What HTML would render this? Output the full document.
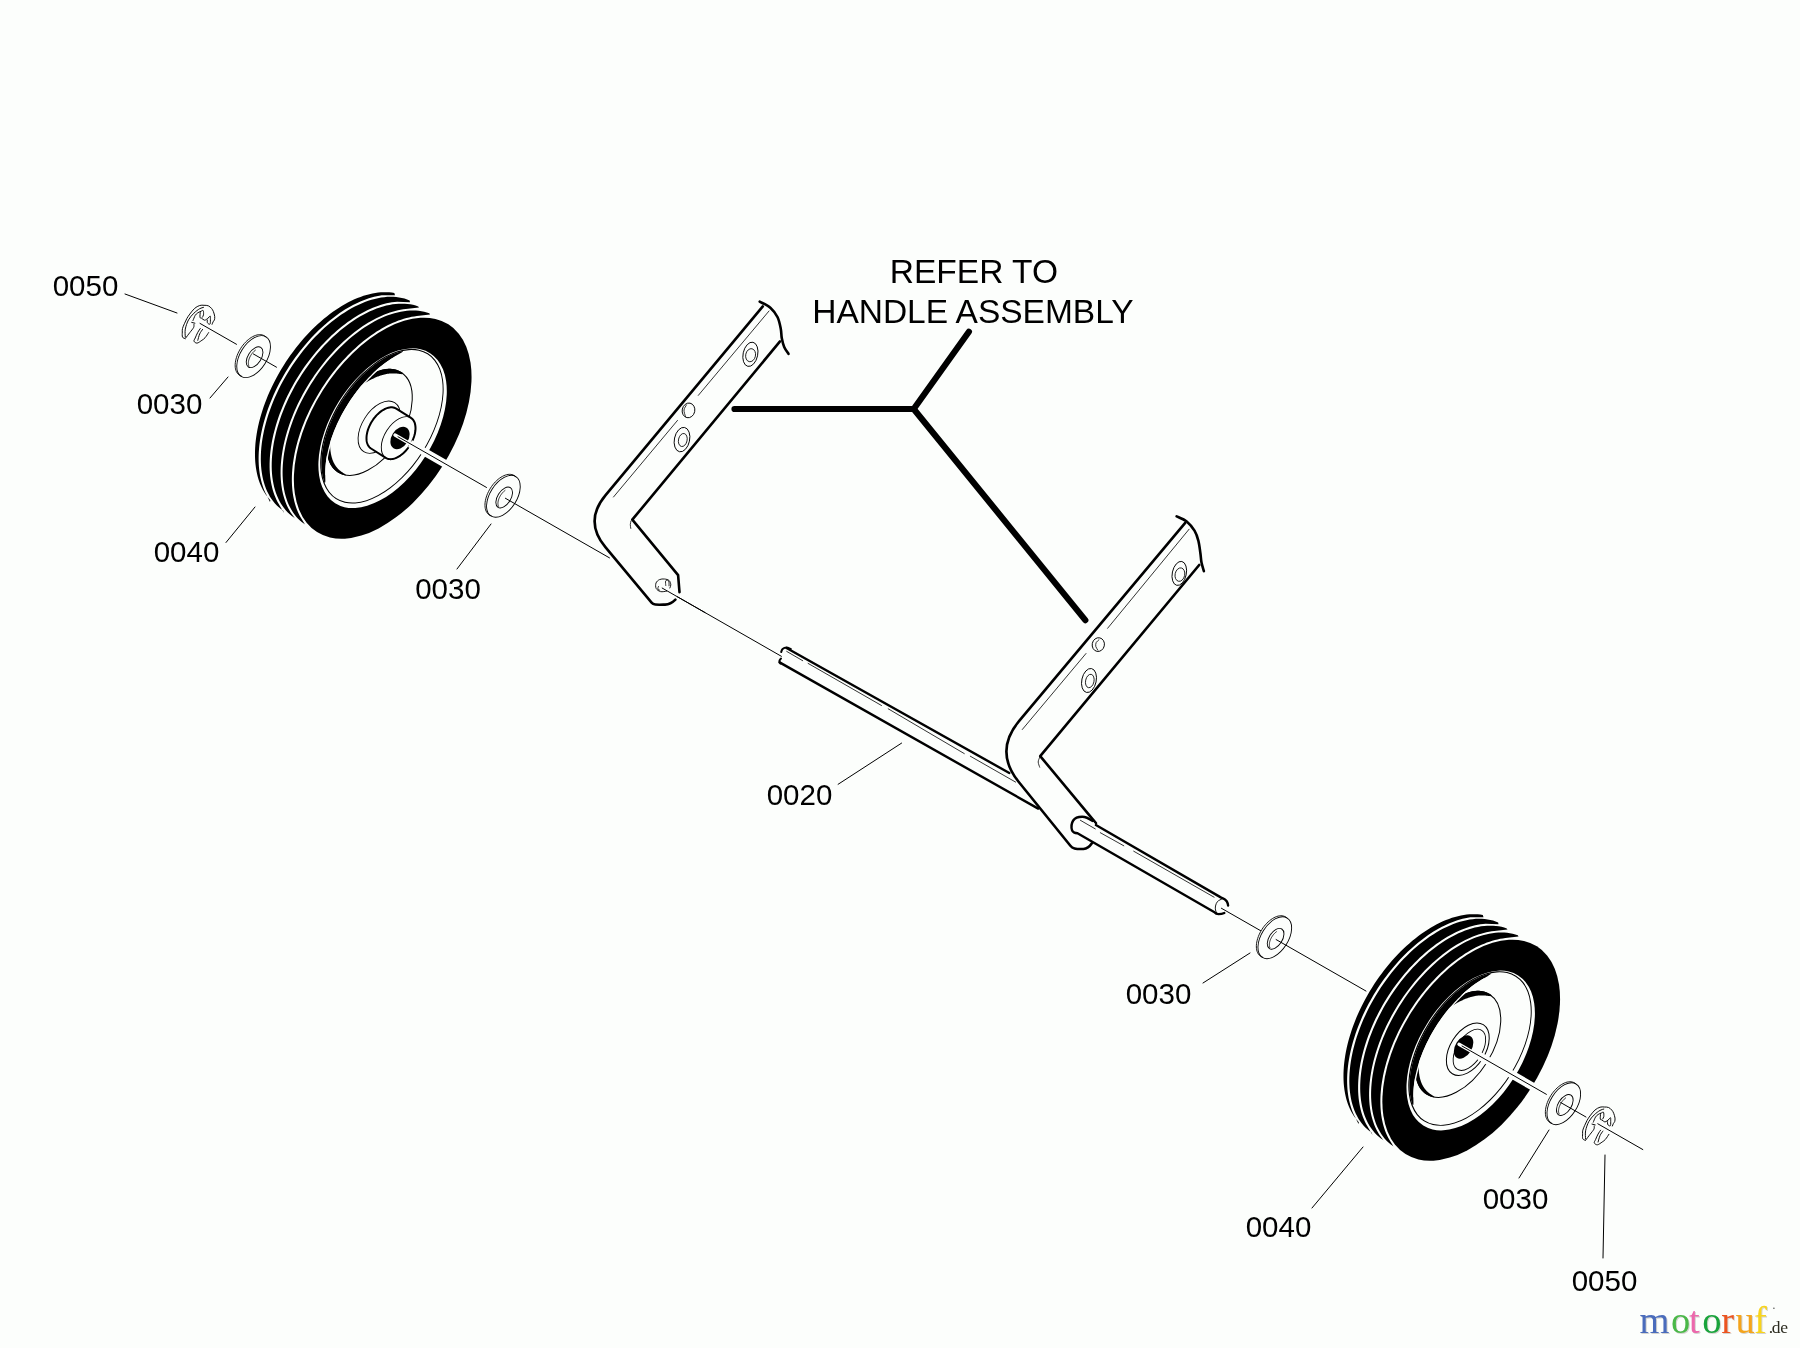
<!DOCTYPE html>
<html><head><meta charset="utf-8"><style>
html,body{margin:0;padding:0;background:#fcfefc;}
body{width:1800px;height:1348px;overflow:hidden;position:relative;font-family:"Liberation Sans",sans-serif;}
svg{position:absolute;left:0;top:0;}
.tx{will-change:transform;}
</style></head><body>
<svg width="1800" height="1348" viewBox="0 0 1800 1348" font-family="Liberation Sans, sans-serif"><line x1="200.00" y1="323.40" x2="236.50" y2="344.30" stroke="#000" stroke-width="1.00" stroke-linecap="round"/>
<path d="M185.30 338.70 C184.83 338.43 183.00 338.22 182.50 337.10 C182.00 335.98 182.30 333.43 182.30 332.00 C182.30 330.57 182.15 329.88 182.50 328.50 C182.85 327.12 183.68 325.35 184.40 323.70 C185.12 322.05 185.90 320.20 186.80 318.60 C187.70 317.00 188.50 315.80 189.80 314.10 C191.10 312.40 192.95 309.83 194.60 308.40 C196.25 306.97 198.13 306.02 199.70 305.50 C201.27 304.98 202.57 305.25 204.00 305.30 C205.43 305.35 207.05 305.28 208.30 305.80 C209.55 306.32 210.65 307.43 211.50 308.40 C212.35 309.37 212.87 310.27 213.40 311.60 C213.93 312.93 214.53 315.02 214.70 316.40 C214.87 317.78 214.67 319.00 214.40 319.90 C214.13 320.80 213.48 321.07 213.10 321.80 C212.72 322.53 212.27 323.88 212.10 324.30" fill="none" stroke="#000" stroke-width="0.95" stroke-linejoin="round" stroke-linecap="round" />
<path d="M185.30 337.10 C185.30 335.77 184.77 331.97 185.30 329.10 C185.83 326.23 187.07 322.55 188.50 319.90 C189.93 317.25 192.03 315.07 193.90 313.20 C195.77 311.33 198.10 309.67 199.70 308.70 C201.30 307.73 202.87 307.62 203.50 307.40" fill="none" stroke="#000" stroke-width="0.95" stroke-linejoin="round" stroke-linecap="round" />
<path d="M185.70 338.00 C186.38 337.10 188.48 334.35 189.80 332.60 C191.12 330.85 192.92 328.88 193.60 327.50 C194.28 326.12 193.85 324.83 193.90 324.30" fill="none" stroke="#000" stroke-width="0.95" stroke-linejoin="round" stroke-linecap="round" />
<path d="M191.70 322.40 L194.90 323.20" fill="none" stroke="#000" stroke-width="0.95" stroke-linejoin="round" stroke-linecap="round" />
<path d="M193.00 320.50 C193.37 319.65 194.40 316.68 195.20 315.40 C196.00 314.12 196.83 313.48 197.80 312.80 C198.77 312.12 200.10 311.67 201.00 311.30 C201.90 310.93 202.78 310.02 203.20 310.60 C203.62 311.18 203.63 313.70 203.50 314.80 C203.37 315.90 202.58 316.80 202.40 317.20" fill="none" stroke="#000" stroke-width="0.95" stroke-linejoin="round" stroke-linecap="round" />
<path d="M200.30 311.80 C200.25 312.72 199.78 316.22 200.00 317.30 C200.22 318.38 200.85 317.82 201.60 318.30 C202.35 318.78 203.65 320.05 204.50 320.20 C205.35 320.35 206.02 319.63 206.70 319.20 C207.38 318.77 208.28 317.87 208.60 317.60" fill="none" stroke="#000" stroke-width="0.95" stroke-linejoin="round" stroke-linecap="round" />
<path d="M207.30 320.00 C207.30 320.40 207.08 321.75 207.30 322.40 C207.52 323.05 208.12 323.68 208.60 323.90 C209.08 324.12 209.90 324.60 210.20 323.70 C210.50 322.80 210.40 319.78 210.40 318.50 C210.40 317.22 210.50 316.15 210.20 316.00 C209.90 315.85 208.87 317.33 208.60 317.60" fill="none" stroke="#000" stroke-width="0.95" stroke-linejoin="round" stroke-linecap="round" />
<path d="M200.30 328.50 C199.88 329.13 198.65 330.72 197.80 332.30 C196.95 333.88 195.83 336.52 195.20 338.00 C194.57 339.48 193.68 340.35 194.00 341.20 C194.32 342.05 195.78 343.25 197.10 343.10 C198.42 342.95 200.57 341.20 201.90 340.30 C203.23 339.40 203.98 338.98 205.10 337.70 C206.22 336.42 208.02 333.45 208.60 332.60" fill="none" stroke="#000" stroke-width="0.95" stroke-linejoin="round" stroke-linecap="round" />
<path d="M202.60 329.40 C202.12 330.15 200.50 332.08 199.70 333.90 C198.90 335.72 198.12 339.23 197.80 340.30" fill="none" stroke="#000" stroke-width="0.95" stroke-linejoin="round" stroke-linecap="round" />
<path d="M266.05 336.91 L266.90 337.53 L267.67 338.27 L268.35 339.12 L268.94 340.08 L269.44 341.14 L269.84 342.30 L270.13 343.55 L270.33 344.88 L270.42 346.27 L270.41 347.74 L270.30 349.25 L270.08 350.82 L269.76 352.41 L269.34 354.04 L268.83 355.68 L268.22 357.32 L267.52 358.96 L266.73 360.59 L265.87 362.19 L264.93 363.76 L263.91 365.28 L262.84 366.75 L261.71 368.16 L260.52 369.50 L259.30 370.75 L258.04 371.92 L256.75 373.00 L255.45 373.97 L254.13 374.84 L252.81 375.59 L251.49 376.23 L250.18 376.74 L248.90 377.13 L247.65 377.40 L246.43 377.54 L245.26 377.54 L244.14 377.42 L243.07 377.17 L242.08 376.80 L241.15 376.29 L239.54 375.28 L238.69 374.66 L237.93 373.92 L237.24 373.06 L236.65 372.10 L236.16 371.04 L235.76 369.88 L235.46 368.64 L235.26 367.31 L235.17 365.91 L235.18 364.45 L235.30 362.93 L235.51 361.37 L235.83 359.77 L236.25 358.15 L236.77 356.51 L237.37 354.86 L238.07 353.22 L238.86 351.59 L239.73 349.99 L240.67 348.42 L241.68 346.90 L242.75 345.43 L243.89 344.02 L245.07 342.69 L246.29 341.43 L247.55 340.26 L248.84 339.19 L250.15 338.22 L251.47 337.35 L252.79 336.60 L254.11 335.96 L255.41 335.44 L256.69 335.05 L257.95 334.79 L259.16 334.65 L260.33 334.64 L261.46 334.76 L262.52 335.01 L263.52 335.39 L264.44 335.89 Z" fill="#fcfefc" stroke="none" stroke-width="0.00" stroke-linejoin="round" stroke-linecap="round" />
<path d="M241.47 376.16 L240.37 375.74 L239.37 375.16 L238.45 374.45 L237.64 373.59 L236.94 372.60 L236.34 371.48 L235.87 370.24 L235.51 368.89 L235.28 367.45 L235.17 365.91 L235.19 364.30 L235.33 362.62 L235.60 360.89 L235.99 359.12 L236.50 357.33 L237.12 355.52 L237.85 353.71 L238.70 351.92 L239.64 350.15 L240.67 348.42 L241.78 346.75 L242.98 345.14 L244.24 343.62 L245.55 342.18 L246.92 340.84 L248.32 339.61 L249.76 338.50 L251.20 337.51 L252.66 336.67 L254.11 335.96 L255.54 335.40 L256.94 334.99 L258.31 334.73 L259.64 334.63 L260.90 334.69 L262.10 334.90 L263.23 335.26 L264.26 335.78 L265.21 336.45 L266.06 337.25" fill="none" stroke="#000" stroke-width="0.90" stroke-linejoin="round" stroke-linecap="round" />
<ellipse cx="253.60" cy="356.60" rx="23.30" ry="13.40" transform="rotate(-57.70 253.60 356.60)" fill="none" stroke="#000" stroke-width="0.90"/>
<ellipse cx="254.60" cy="357.20" rx="11.60" ry="6.60" transform="rotate(-57.70 254.60 357.20)" fill="none" stroke="#000" stroke-width="0.90"/>
<path d="M248.94 366.05 L248.69 365.46 L248.51 364.80 L248.39 364.09 L248.34 363.32 L248.36 362.51 L248.45 361.66 L248.60 360.77 L248.82 359.87 L249.11 358.95 L249.46 358.02 L249.87 357.10 L250.33 356.18 L250.85 355.29 L251.41 354.42 L252.01 353.58 L252.65 352.78 L253.32 352.03 L254.01 351.34 L254.73 350.71 L255.45 350.14" fill="none" stroke="#000" stroke-width="0.80" stroke-linejoin="round" stroke-linecap="round" />
<line x1="253.40" y1="353.98" x2="276.50" y2="367.20" stroke="#000" stroke-width="1.00" stroke-linecap="round"/>
<ellipse cx="382.70" cy="428.20" rx="122.90" ry="70.80" transform="rotate(-57.70 382.70 428.20)" fill="#000" stroke="none" stroke-width="1.00"/>
<path d="M270.33 500.19 L268.64 498.32 L267.04 496.34 L265.54 494.25 L264.13 492.05 L262.82 489.74 L261.60 487.32 L260.48 484.80 L259.47 482.19 L258.55 479.48 L257.74 476.68 L257.03 473.78 L256.42 470.81 L255.92 467.75 L255.52 464.61 L255.23 461.40 L255.05 458.12 L254.97 454.77 L255.00 451.36 L255.14 447.89 L255.38 444.37 L255.73 440.79 L256.18 437.17 L256.74 433.51 L257.41 429.82 L258.18 426.09 L259.05 422.33 L260.02 418.55 L261.10 414.75 L262.27 410.93 L263.54 407.11 L264.91 403.28 L266.37 399.45 L267.92 395.62 L269.57 391.80 L271.31 388.00 L273.13 384.21 L275.04 380.44 L277.02 376.71 L279.10 373.00 L281.24 369.33 L283.47 365.69 L285.76 362.11 L288.13 358.57 L290.56 355.08 L293.05 351.66 L295.61 348.29 L298.23 344.99 L300.90 341.76 L303.62 338.60 L306.39 335.52 L309.20 332.51 L312.06 329.60 L314.95 326.77 L317.88 324.03 L320.84 321.39 L323.83 318.84 L326.84 316.40 L329.87 314.05 L332.92 311.82 L335.98 309.69 L339.05 307.68 L342.13 305.78 L345.21 304.00 L348.28 302.33 L351.35 300.79 L354.42 299.37 L357.47 298.07 L360.50 296.90 L363.51 295.85 L366.50 294.93 L369.47 294.15 L372.40 293.49 L375.30 292.96 L378.16 292.57 L380.97 292.31 L383.75 292.18 L386.47 292.18 L389.15 292.32 L391.77 292.59 L394.33 292.99 L395.00 295.25 L381.74 295.23 L379.21 295.65 L376.65 296.16 L374.07 296.77 L371.48 297.48 L368.87 298.28 L366.24 299.18 L363.60 300.17 L360.95 301.25 L358.30 302.42 L355.63 303.68 L352.97 305.04 L350.30 306.48 L347.63 308.00 L344.97 309.62 L342.31 311.31 L339.65 313.09 L337.01 314.95 L334.38 316.89 L331.76 318.90 L329.15 320.99 L326.57 323.16 L324.00 325.39 L321.46 327.70 L318.94 330.07 L316.45 332.51 L313.99 335.02 L311.55 337.58 L309.15 340.21 L306.79 342.89 L304.46 345.63 L302.17 348.42 L299.92 351.26 L297.71 354.14 L295.55 357.08 L293.43 360.05 L291.36 363.07 L289.34 366.12 L287.37 369.21 L285.46 372.34 L283.60 375.49 L281.79 378.67 L280.05 381.87 L278.36 385.09 L276.73 388.34 L275.17 391.60 L273.67 394.87 L272.23 398.15 L270.87 401.45 L269.56 404.74 L268.33 408.04 L267.17 411.34 L266.07 414.64 L265.05 417.93 L264.10 421.21 L263.23 424.48 L262.42 427.73 L261.70 430.97 L261.04 434.19 L260.47 437.38 L259.97 440.55 L259.54 443.70 L259.20 446.81 L258.93 449.89 L258.74 452.93 L258.63 455.94 L258.60 458.90 L258.65 461.82 L258.78 464.70 L258.98 467.53 L259.27 470.31 L259.63 473.03 L260.07 475.70 L260.59 478.32 L261.19 480.87 L261.87 483.36 L262.63 485.79 L263.46 488.15 L264.37 490.45 L265.36 492.67 L266.43 494.82 L270.00 502.00 Z" fill="#000" stroke="none" stroke-width="0.00" stroke-linejoin="round" stroke-linecap="round" />
<path d="M283.09 510.61 L280.90 509.04 L278.82 507.33 L276.83 505.47 L274.95 503.47 L273.18 501.33 L271.52 499.05 L269.97 496.65 L268.54 494.11 L267.22 491.45 L266.02 488.67 L264.94 485.77 L263.99 482.76 L263.15 479.64 L262.45 476.41 L261.86 473.09 L261.41 469.67 L261.08 466.16 L260.88 462.57 L260.80 458.89 L260.86 455.15 L261.04 451.33 L261.35 447.45 L261.78 443.51 L262.35 439.52 L263.04 435.49 L263.85 431.41 L264.79 427.30 L265.85 423.16 L267.03 419.00 L268.33 414.82 L269.74 410.63 L271.28 406.43 L272.92 402.24 L274.67 398.05 L276.54 393.88 L278.51 389.72 L280.58 385.59 L282.75 381.49 L285.01 377.43 L287.37 373.42 L289.82 369.45 L292.36 365.53 L294.98 361.68 L297.67 357.89 L300.44 354.18 L303.29 350.53 L306.20 346.98 L309.17 343.50 L312.20 340.12 L315.28 336.84 L318.42 333.66 L321.59 330.58 L324.81 327.62 L328.07 324.77 L331.35 322.04 L334.67 319.43 L338.00 316.95 L341.35 314.59 L344.71 312.38 L348.08 310.29 L351.45 308.35 L354.82 306.55 L358.18 304.90 L361.53 303.39 L364.87 302.03 L368.18 300.83 L371.46 299.78 L374.71 298.88 L377.93 298.14 L381.10 297.55 L384.24 297.13 L387.32 296.86 L390.34 296.75 L393.31 296.80 L396.21 297.01 L399.05 297.38 L401.82 297.91 L404.51 298.59 L407.12 299.44 L409.65 300.43 L410.00 302.25 L397.15 301.71 L394.55 301.96 L391.91 302.32 L389.24 302.79 L386.55 303.37 L383.84 304.05 L381.11 304.84 L378.36 305.73 L375.60 306.73 L372.82 307.83 L370.03 309.03 L367.24 310.33 L364.44 311.73 L361.64 313.22 L358.84 314.81 L356.04 316.50 L353.25 318.28 L350.46 320.15 L347.69 322.10 L344.93 324.15 L342.18 326.28 L339.45 328.49 L336.74 330.78 L334.06 333.15 L331.40 335.60 L328.76 338.13 L326.16 340.72 L323.59 343.38 L321.05 346.11 L318.56 348.91 L316.10 351.77 L313.68 354.68 L311.31 357.65 L308.98 360.68 L306.71 363.75 L304.48 366.87 L302.31 370.04 L300.19 373.25 L298.13 376.50 L296.12 379.78 L294.18 383.09 L292.30 386.44 L290.49 389.81 L288.74 393.20 L287.05 396.62 L285.44 400.04 L283.90 403.49 L282.43 406.94 L281.03 410.40 L279.71 413.87 L278.47 417.33 L277.30 420.79 L276.21 424.25 L275.20 427.69 L274.28 431.13 L273.43 434.55 L272.66 437.95 L271.98 441.32 L271.39 444.68 L270.87 448.00 L270.45 451.29 L270.10 454.55 L269.85 457.77 L269.68 460.95 L269.60 464.09 L269.60 467.18 L269.69 470.23 L269.87 473.22 L270.14 476.15 L270.49 479.03 L270.93 481.85 L271.46 484.61 L272.07 487.30 L272.77 489.93 L273.56 492.48 L274.43 494.96 L275.38 497.37 L276.43 499.70 L277.55 501.94 L278.76 504.11 L280.05 506.19 L284.00 513.00 Z" fill="#000" stroke="none" stroke-width="0.00" stroke-linejoin="round" stroke-linecap="round" />
<path d="M293.98 517.49 L291.81 515.94 L289.75 514.25 L287.79 512.42 L285.92 510.44 L284.17 508.33 L282.52 506.09 L280.98 503.72 L279.55 501.23 L278.24 498.61 L277.04 495.87 L275.96 493.02 L275.00 490.06 L274.16 486.99 L273.44 483.81 L272.84 480.54 L272.37 477.18 L272.02 473.73 L271.79 470.19 L271.69 466.58 L271.72 462.89 L271.87 459.13 L272.14 455.31 L272.54 451.43 L273.07 447.50 L273.71 443.52 L274.48 439.50 L275.37 435.45 L276.38 431.36 L277.51 427.25 L278.76 423.13 L280.12 418.99 L281.59 414.84 L283.18 410.69 L284.87 406.55 L286.67 402.42 L288.57 398.30 L290.58 394.21 L292.68 390.15 L294.88 386.11 L297.17 382.12 L299.56 378.18 L302.02 374.28 L304.57 370.44 L307.20 366.66 L309.90 362.95 L312.68 359.31 L315.52 355.75 L318.42 352.27 L321.39 348.88 L324.41 345.58 L327.48 342.38 L330.59 339.27 L333.75 336.28 L336.95 333.39 L340.18 330.62 L343.44 327.96 L346.72 325.42 L350.02 323.01 L353.34 320.73 L356.67 318.58 L360.00 316.57 L363.33 314.69 L366.66 312.95 L369.98 311.36 L373.29 309.91 L376.58 308.60 L379.85 307.45 L383.09 306.44 L386.29 305.59 L389.47 304.89 L392.60 304.34 L395.68 303.95 L398.72 303.71 L401.70 303.63 L404.63 303.71 L407.49 303.94 L410.28 304.32 L413.01 304.86 L415.66 305.55 L418.24 306.40 L419.00 307.50 L405.81 308.90 L403.22 309.24 L400.60 309.69 L397.96 310.23 L395.30 310.88 L392.62 311.64 L389.92 312.49 L387.21 313.45 L384.48 314.50 L381.74 315.65 L379.00 316.90 L376.25 318.25 L373.50 319.69 L370.74 321.22 L367.99 322.85 L365.24 324.56 L362.50 326.37 L359.76 328.26 L357.04 330.23 L354.33 332.29 L351.64 334.43 L348.97 336.65 L346.31 338.95 L343.68 341.32 L341.08 343.76 L338.50 346.28 L335.96 348.86 L333.45 351.51 L330.97 354.23 L328.53 357.00 L326.12 359.83 L323.76 362.72 L321.45 365.66 L319.17 368.66 L316.95 371.70 L314.78 374.78 L312.65 377.91 L310.59 381.08 L308.57 384.28 L306.62 387.52 L304.72 390.79 L302.89 394.08 L301.11 397.40 L299.40 400.74 L297.76 404.10 L296.19 407.48 L294.68 410.87 L293.24 414.27 L291.88 417.67 L290.58 421.08 L289.37 424.49 L288.22 427.89 L287.16 431.29 L286.17 434.68 L285.25 438.06 L284.42 441.42 L283.67 444.76 L283.00 448.09 L282.40 451.38 L281.89 454.66 L281.47 457.90 L281.12 461.10 L280.86 464.28 L280.68 467.41 L280.59 470.50 L280.58 473.55 L280.66 476.55 L280.82 479.50 L281.06 482.40 L281.39 485.24 L281.80 488.03 L282.29 490.76 L282.87 493.42 L283.54 496.02 L284.29 498.55 L285.12 501.01 L286.03 503.40 L287.02 505.71 L288.10 507.95 L289.25 510.11 L290.49 512.18 L295.00 518.50 Z" fill="#000" stroke="none" stroke-width="0.00" stroke-linejoin="round" stroke-linecap="round" />
<path d="M304.13 523.87 L302.01 522.28 L299.98 520.54 L298.06 518.67 L296.23 516.66 L294.52 514.52 L292.91 512.24 L291.41 509.84 L290.02 507.31 L288.74 504.67 L287.58 501.90 L286.54 499.02 L285.62 496.04 L284.82 492.95 L284.14 489.76 L283.58 486.47 L283.14 483.09 L282.83 479.62 L282.64 476.08 L282.58 472.45 L282.63 468.75 L282.82 464.99 L283.13 461.17 L283.56 457.29 L284.11 453.35 L284.79 449.38 L285.58 445.36 L286.50 441.31 L287.54 437.23 L288.69 433.13 L289.96 429.01 L291.34 424.88 L292.84 420.75 L294.45 416.62 L296.16 412.49 L297.98 408.37 L299.90 404.28 L301.92 400.20 L304.04 396.16 L306.25 392.15 L308.55 388.18 L310.94 384.25 L313.42 380.38 L315.98 376.56 L318.61 372.81 L321.32 369.12 L324.10 365.51 L326.94 361.98 L329.85 358.52 L332.82 355.16 L335.84 351.89 L338.91 348.71 L342.02 345.63 L345.18 342.66 L348.37 339.80 L351.59 337.06 L354.85 334.43 L358.12 331.92 L361.42 329.54 L364.72 327.29 L368.04 325.16 L371.36 323.17 L374.69 321.32 L378.00 319.61 L381.31 318.04 L384.61 316.61 L387.88 315.33 L391.14 314.20 L394.36 313.21 L397.56 312.38 L400.71 311.70 L403.83 311.17 L406.90 310.80 L409.92 310.58 L412.89 310.52 L415.80 310.60 L418.65 310.85 L421.43 311.25 L424.14 311.80 L426.78 312.50 L429.34 313.36 L430.00 314.50 L416.82 316.06 L414.25 316.41 L411.66 316.86 L409.05 317.41 L406.41 318.06 L403.76 318.81 L401.09 319.66 L398.40 320.61 L395.70 321.65 L392.99 322.79 L390.28 324.03 L387.55 325.36 L384.83 326.79 L382.10 328.30 L379.38 329.91 L376.66 331.60 L373.94 333.38 L371.24 335.25 L368.54 337.20 L365.86 339.23 L363.19 341.34 L360.55 343.52 L357.92 345.79 L355.31 348.13 L352.73 350.54 L350.18 353.01 L347.65 355.56 L345.16 358.17 L342.70 360.85 L340.28 363.58 L337.89 366.37 L335.55 369.22 L333.24 372.12 L330.98 375.07 L328.77 378.07 L326.61 381.11 L324.49 384.20 L322.43 387.32 L320.42 390.48 L318.47 393.68 L316.58 396.90 L314.74 400.15 L312.97 403.43 L311.25 406.73 L309.60 410.05 L308.02 413.39 L306.50 416.74 L305.06 420.10 L303.68 423.47 L302.37 426.84 L301.13 430.21 L299.97 433.58 L298.88 436.95 L297.87 440.31 L296.93 443.66 L296.07 446.99 L295.29 450.31 L294.59 453.61 L293.96 456.88 L293.42 460.14 L292.95 463.36 L292.57 466.55 L292.27 469.71 L292.05 472.83 L291.91 475.92 L291.85 478.96 L291.88 481.95 L291.99 484.90 L292.18 487.80 L292.45 490.65 L292.81 493.44 L293.25 496.18 L293.77 498.85 L294.37 501.47 L295.06 504.02 L295.83 506.50 L296.67 508.91 L297.60 511.25 L298.61 513.52 L299.70 515.71 L300.87 517.82 L305.00 524.50 Z" fill="#000" stroke="none" stroke-width="0.00" stroke-linejoin="round" stroke-linecap="round" />
<ellipse cx="382.60" cy="428.20" rx="88.80" ry="51.20" transform="rotate(-57.70 382.60 428.20)" fill="#fcfefc" stroke="none" stroke-width="1.00"/>
<ellipse cx="381.90" cy="426.20" rx="86.20" ry="48.60" transform="rotate(-57.70 381.90 426.20)" fill="#000" stroke="none" stroke-width="1.00"/>
<ellipse cx="382.00" cy="426.30" rx="85.10" ry="47.50" transform="rotate(-57.70 382.00 426.30)" fill="#fcfefc" stroke="none" stroke-width="1.00"/>
<path d="M403.30 350.87 L401.86 351.18 L400.41 351.54 L398.95 351.95 L397.48 352.40 L395.99 352.90 L394.50 353.44 L393.00 354.04 L391.49 354.68 L389.98 355.36 L388.46 356.09 L386.94 356.86 L385.41 357.68 L383.88 358.54 L382.36 359.45 L380.83 360.40 L379.30 361.38 L377.77 362.41 L376.25 363.49 L374.73 364.60 L373.21 365.75 L371.70 366.93 L370.20 368.16 L368.70 369.42 L367.21 370.72 L365.73 372.06 L364.27 373.43 L362.81 374.83 L361.37 376.27 L359.93 377.73 L358.52 379.23 L357.11 380.76 L355.73 382.32 L354.36 383.90 L353.01 385.51 L351.67 387.15 L350.36 388.81 L349.06 390.50 L347.79 392.21 L346.54 393.94 L345.31 395.69 L344.10 397.46 L342.92 399.25 L341.76 401.06 L340.63 402.88 L339.53 404.72 L338.45 406.57 L337.40 408.43 L336.37 410.31 L335.38 412.19 L334.42 414.09 L333.48 415.99 L332.58 417.90 L331.71 419.81 L330.87 421.73 L330.06 423.65 L329.29 425.57 L328.55 427.49 L327.84 429.42 L327.17 431.34 L326.54 433.25 L325.93 435.17 L325.37 437.07 L324.84 438.97 L324.34 440.87 L323.89 442.75 L323.47 444.62 L323.08 446.48 L322.74 448.33 L322.43 450.16 L322.16 451.98 L321.93 453.78 L321.74 455.57 L321.58 457.34 L321.46 459.08 L321.38 460.81 L321.34 462.51 L321.34 464.19 L321.38 465.85 L321.45 467.48 L321.57 469.09 L321.72 470.66 L321.91 472.21 L322.14 473.74 L322.41 475.23 L322.71 476.69 L323.06 478.11 L323.44 479.51 L323.85 480.87 L324.31 482.20 L324.80 483.49 L324.80 483.49 L325.32 481.83 L325.35 480.38 L325.32 478.96 L325.28 477.54 L325.25 476.12 L325.22 474.68 L325.22 473.23 L325.23 471.76 L325.26 470.28 L325.32 468.77 L325.41 467.25 L325.52 465.71 L325.66 464.15 L325.83 462.57 L326.03 460.97 L326.25 459.35 L326.50 457.72 L326.79 456.07 L327.10 454.40 L327.44 452.71 L327.82 451.02 L328.22 449.30 L328.65 447.58 L329.11 445.84 L329.61 444.08 L330.13 442.32 L330.68 440.55 L331.26 438.77 L331.87 436.98 L332.51 435.19 L333.18 433.39 L333.88 431.58 L334.61 429.77 L335.36 427.96 L336.14 426.15 L336.95 424.34 L337.79 422.52 L338.65 420.71 L339.54 418.90 L340.45 417.10 L341.39 415.30 L342.35 413.51 L343.34 411.73 L344.34 409.95 L345.38 408.18 L346.43 406.43 L347.51 404.68 L348.60 402.95 L349.72 401.23 L350.85 399.53 L352.01 397.84 L353.18 396.17 L354.37 394.51 L355.57 392.88 L356.80 391.26 L358.03 389.67 L359.28 388.10 L360.55 386.54 L361.82 385.02 L363.11 383.51 L364.41 382.04 L365.72 380.58 L367.04 379.16 L368.37 377.76 L369.71 376.39 L371.05 375.04 L372.40 373.73 L373.75 372.44 L375.11 371.19 L376.47 369.97 L377.84 368.77 L379.20 367.61 L380.57 366.48 L381.94 365.38 L383.31 364.32 L384.68 363.29 L386.05 362.28 L387.41 361.31 L388.77 360.38 L390.13 359.47 L391.48 358.59 L392.83 357.74 L394.18 356.92 L395.52 356.12 L396.85 355.35 L398.18 354.59 L399.50 353.83 L400.81 353.06 L402.10 352.23 L403.30 350.87 Z" fill="#000" stroke="none" stroke-width="0.00" stroke-linejoin="round" stroke-linecap="round" />
<ellipse cx="369.70" cy="422.30" rx="58.90" ry="33.90" transform="rotate(-57.70 369.70 422.30)" fill="none" stroke="#000" stroke-width="1.00"/>
<path d="M403.41 373.51 L403.00 373.18 L402.58 372.87 L402.15 372.56 L401.71 372.27 L401.27 371.98 L400.82 371.71 L400.36 371.45 L399.89 371.21 L399.42 370.97 L398.94 370.75 L398.46 370.54 L397.96 370.34 L397.47 370.15 L396.96 369.98 L396.45 369.81 L395.93 369.66 L395.41 369.53 L394.88 369.40 L394.34 369.29 L393.80 369.19 L393.26 369.10 L392.71 369.02 L392.15 368.96 L391.59 368.90 L391.02 368.87 L390.45 368.84 L389.88 368.82 L389.30 368.82 L388.71 368.83 L388.12 368.85 L387.53 368.89 L386.93 368.94 L386.33 369.00 L385.73 369.07 L385.12 369.15 L384.51 369.25 L383.90 369.35 L383.28 369.47 L382.66 369.61 L382.04 369.75 L381.41 369.91 L380.79 370.08 L380.16 370.26 L379.52 370.45 L378.89 370.65 L378.25 370.87 L377.61 371.10 L376.97 371.34 L376.33 371.59 L375.69 371.85 L375.05 372.12 L374.40 372.41 L373.75 372.70 L373.11 373.01 L372.46 373.33 L371.81 373.66 L371.16 374.00 L370.51 374.36 L369.86 374.72 L369.21 375.09 L368.56 375.48 L367.92 375.87 L367.27 376.28 L366.62 376.70 L365.97 377.12 L365.33 377.56 L364.68 378.01 L364.04 378.46 L363.39 378.93 L362.75 379.41 L362.11 379.89 L361.48 380.39 L360.84 380.90 L360.21 381.41 L359.58 381.94 L358.95 382.47 L358.32 383.01 L357.70 383.57 L357.07 384.13 L356.46 384.69 L355.84 385.27 L355.23 385.86 L354.62 386.45 L354.01 387.05 L353.41 387.67 L352.81 388.28 L352.22 388.91 L351.63 389.54 L351.04 390.18 L350.46 390.83 L350.46 390.83 L351.89 390.96 L352.78 390.61 L353.59 390.20 L354.36 389.77 L355.10 389.32 L355.83 388.86 L356.54 388.41 L357.25 387.95 L357.95 387.50 L358.64 387.05 L359.32 386.60 L360.01 386.15 L360.68 385.71 L361.35 385.28 L362.02 384.85 L362.69 384.43 L363.35 384.02 L364.01 383.61 L364.66 383.21 L365.32 382.81 L365.97 382.43 L366.61 382.05 L367.26 381.68 L367.90 381.31 L368.53 380.96 L369.17 380.61 L369.80 380.27 L370.43 379.94 L371.05 379.62 L371.67 379.30 L372.29 378.99 L372.90 378.70 L373.51 378.41 L374.12 378.13 L374.72 377.85 L375.32 377.59 L375.92 377.33 L376.51 377.09 L377.09 376.85 L377.68 376.62 L378.25 376.39 L378.83 376.18 L379.40 375.98 L379.96 375.78 L380.52 375.59 L381.08 375.41 L381.63 375.24 L382.17 375.07 L382.71 374.92 L383.25 374.77 L383.78 374.63 L384.31 374.50 L384.83 374.38 L385.35 374.26 L385.86 374.15 L386.37 374.05 L386.87 373.96 L387.37 373.87 L387.87 373.79 L388.36 373.72 L388.85 373.66 L389.33 373.60 L389.81 373.55 L390.28 373.51 L390.75 373.47 L391.22 373.44 L391.69 373.42 L392.15 373.40 L392.61 373.39 L393.07 373.38 L393.53 373.39 L393.98 373.40 L394.43 373.41 L394.89 373.43 L395.34 373.46 L395.80 373.49 L396.25 373.53 L396.71 373.57 L397.16 373.62 L397.63 373.68 L398.09 373.73 L398.56 373.80 L399.04 373.86 L399.53 373.93 L400.03 374.00 L400.54 374.06 L401.08 374.11 L401.65 374.13 L402.30 374.09 L403.41 373.51 Z" fill="#000" stroke="none" stroke-width="0.00" stroke-linejoin="round" stroke-linecap="round" />
<path d="M331.54 422.13 L331.22 423.00 L330.91 423.87 L330.61 424.73 L330.33 425.60 L330.05 426.47 L329.78 427.33 L329.52 428.19 L329.28 429.06 L329.04 429.92 L328.82 430.77 L328.60 431.63 L328.40 432.48 L328.21 433.33 L328.02 434.18 L327.85 435.03 L327.69 435.87 L327.55 436.71 L327.41 437.54 L327.28 438.37 L327.17 439.20 L327.06 440.02 L326.97 440.83 L326.89 441.65 L326.82 442.45 L326.76 443.26 L326.71 444.05 L326.68 444.84 L326.65 445.63 L326.64 446.41 L326.64 447.18 L326.65 447.95 L326.67 448.71 L326.70 449.46 L326.74 450.20 L326.80 450.94 L326.87 451.67 L326.94 452.40 L327.03 453.11 L327.13 453.82 L327.25 454.52 L327.37 455.21 L327.50 455.89 L327.65 456.56 L327.81 457.23 L327.98 457.88 L328.15 458.53 L328.35 459.17 L328.55 459.79 L328.76 460.41 L328.98 461.02 L329.22 461.61 L329.46 462.20 L329.72 462.78 L329.99 463.34 L330.27 463.90 L330.56 464.44 L330.85 464.98 L331.16 465.50 L331.49 466.01 L331.82 466.51 L332.16 466.99 L332.51 467.47 L332.87 467.93 L333.24 468.38 L333.62 468.82 L334.01 469.25 L334.42 469.66 L334.83 470.06 L335.25 470.45 L335.68 470.83 L336.11 471.19 L336.56 471.54 L337.02 471.88 L337.49 472.20 L337.96 472.51 L338.44 472.80 L338.93 473.09 L339.43 473.36 L339.94 473.61 L340.46 473.85 L340.98 474.08 L341.51 474.29 L342.05 474.49 L342.60 474.67 L343.15 474.84 L343.71 475.00 L344.28 475.14 L344.85 475.27 L345.43 475.38 L346.02 475.48 L346.02 475.48 L345.58 474.56 L345.08 474.15 L344.59 473.80 L344.11 473.49 L343.64 473.19 L343.17 472.89 L342.72 472.60 L342.28 472.30 L341.84 472.01 L341.42 471.71 L341.01 471.41 L340.60 471.11 L340.21 470.79 L339.82 470.48 L339.45 470.16 L339.08 469.83 L338.72 469.50 L338.37 469.16 L338.03 468.81 L337.69 468.46 L337.37 468.09 L337.05 467.73 L336.74 467.35 L336.43 466.97 L336.14 466.58 L335.85 466.18 L335.57 465.77 L335.29 465.36 L335.02 464.93 L334.76 464.50 L334.50 464.06 L334.26 463.61 L334.01 463.15 L333.78 462.68 L333.55 462.20 L333.33 461.72 L333.11 461.22 L332.91 460.72 L332.70 460.20 L332.51 459.67 L332.32 459.14 L332.14 458.59 L331.97 458.04 L331.80 457.48 L331.65 456.90 L331.50 456.32 L331.35 455.72 L331.22 455.12 L331.09 454.51 L330.97 453.89 L330.85 453.26 L330.75 452.61 L330.65 451.96 L330.56 451.30 L330.48 450.64 L330.41 449.96 L330.34 449.27 L330.29 448.58 L330.24 447.87 L330.20 447.16 L330.17 446.44 L330.14 445.71 L330.13 444.98 L330.12 444.23 L330.12 443.48 L330.13 442.72 L330.15 441.95 L330.18 441.18 L330.21 440.40 L330.25 439.61 L330.31 438.81 L330.36 438.01 L330.43 437.20 L330.50 436.38 L330.58 435.56 L330.67 434.73 L330.77 433.90 L330.87 433.06 L330.98 432.21 L331.09 431.36 L331.21 430.50 L331.33 429.63 L331.45 428.76 L331.57 427.87 L331.70 426.99 L331.81 426.09 L331.92 425.17 L332.00 424.25 L332.01 423.28 L331.54 422.13 Z" fill="#000" stroke="none" stroke-width="0.00" stroke-linejoin="round" stroke-linecap="round" />
<path d="M395.79 356.82 L394.46 357.61 L393.14 358.43 L391.80 359.27 L390.46 360.14 L389.12 361.04 L387.77 361.97 L386.42 362.93 L385.07 363.93 L383.71 364.95 L382.36 366.01 L381.00 367.10 L379.64 368.22 L378.28 369.37 L376.93 370.56 L375.58 371.77 L374.23 373.02 L372.89 374.30 L371.55 375.60 L370.21 376.94 L368.89 378.30 L367.57 379.69 L366.26 381.11 L364.95 382.55 L363.66 384.03 L362.38 385.52 L361.11 387.04 L359.85 388.58 L358.61 390.15 L357.38 391.73 L356.17 393.34 L354.97 394.97 L353.78 396.61 L352.62 398.27 L351.47 399.95 L350.34 401.65 L349.23 403.36 L348.14 405.08 L347.07 406.82 L346.02 408.56 L345.00 410.32 L343.99 412.09 L343.01 413.86 L342.05 415.65 L341.12 417.44 L340.21 419.23 L339.33 421.03 L338.47 422.83 L337.64 424.63 L336.84 426.43 L336.06 428.24 L335.31 430.04 L334.59 431.83 L333.89 433.63 L333.23 435.42 L332.59 437.20 L331.98 438.98 L331.40 440.75 L330.86 442.51 L330.34 444.26 L329.85 445.99 L329.39 447.72 L328.96 449.43 L328.56 451.13 L328.19 452.82 L327.85 454.49 L327.53 456.14 L327.25 457.78 L327.00 459.39 L326.78 460.99 L326.58 462.58 L326.41 464.14 L326.27 465.68 L326.16 467.21 L326.07 468.71 L326.01 470.19 L325.97 471.66 L325.96 473.11 L325.96 474.54" fill="none" stroke="#fcfefc" stroke-width="1.30" stroke-linejoin="round" stroke-linecap="round" />
<ellipse cx="379.20" cy="427.20" rx="29.00" ry="17.00" transform="rotate(-57.70 379.20 427.20)" fill="#fcfefc" stroke="#000" stroke-width="0.90"/>
<path d="M411.01 417.95 L411.88 418.59 L412.67 419.34 L413.37 420.21 L413.97 421.19 L414.48 422.27 L414.89 423.45 L415.20 424.72 L415.41 426.06 L415.51 427.49 L415.51 428.97 L415.40 430.51 L415.18 432.10 L414.86 433.72 L414.44 435.37 L413.92 437.03 L413.31 438.70 L412.60 440.36 L411.81 442.01 L410.93 443.63 L409.98 445.22 L408.95 446.76 L407.86 448.25 L406.72 449.68 L405.52 451.03 L404.27 452.30 L402.99 453.48 L401.68 454.56 L400.36 455.55 L399.02 456.42 L397.67 457.18 L396.33 457.82 L395.00 458.34 L393.70 458.73 L392.42 459.00 L391.18 459.13 L389.98 459.13 L388.84 459.01 L387.76 458.75 L386.74 458.36 L385.79 457.85 L371.00 448.50 L370.13 447.86 L369.34 447.11 L368.64 446.24 L368.04 445.26 L367.53 444.18 L367.11 443.00 L366.80 441.73 L366.60 440.38 L366.50 438.96 L366.50 437.48 L366.61 435.94 L366.83 434.35 L367.15 432.73 L367.56 431.08 L368.08 429.42 L368.70 427.75 L369.40 426.09 L370.20 424.44 L371.07 422.82 L372.03 421.23 L373.05 419.69 L374.14 418.20 L375.29 416.77 L376.49 415.42 L377.74 414.15 L379.02 412.97 L380.32 411.88 L381.65 410.90 L382.99 410.03 L384.34 409.27 L385.68 408.63 L387.00 408.11 L388.31 407.72 L389.59 407.45 L390.83 407.32 L392.02 407.31 L393.17 407.44 L394.25 407.70 L395.27 408.09 L396.22 408.60 Z" fill="#fcfefc" stroke="#000" stroke-width="2.00" stroke-linejoin="round" stroke-linecap="round" />
<ellipse cx="398.40" cy="437.90" rx="23.60" ry="13.70" transform="rotate(-57.70 398.40 437.90)" fill="none" stroke="#000" stroke-width="0.90"/>
<ellipse cx="400.00" cy="438.00" rx="12.20" ry="8.40" transform="rotate(-57.70 400.00 438.00)" fill="#000" stroke="none" stroke-width="1.00"/>
<line x1="395.00" y1="435.06" x2="411.00" y2="444.22" stroke="#fcfefc" stroke-width="3.40" stroke-linecap="round"/>
<line x1="410.00" y1="443.65" x2="486.50" y2="487.45" stroke="#fcfefc" stroke-width="8.00" stroke-linecap="butt"/>
<line x1="398.00" y1="436.77" x2="486.50" y2="487.45" stroke="#000" stroke-width="1.00" stroke-linecap="round"/>
<path d="M515.85 476.61 L516.70 477.23 L517.47 477.97 L518.15 478.82 L518.74 479.78 L519.24 480.84 L519.64 482.00 L519.93 483.25 L520.13 484.58 L520.22 485.97 L520.21 487.44 L520.10 488.95 L519.88 490.52 L519.56 492.11 L519.14 493.74 L518.63 495.38 L518.02 497.02 L517.32 498.66 L516.53 500.29 L515.67 501.89 L514.73 503.46 L513.71 504.98 L512.64 506.45 L511.51 507.86 L510.32 509.20 L509.10 510.45 L507.84 511.62 L506.55 512.70 L505.25 513.67 L503.93 514.54 L502.61 515.29 L501.29 515.93 L499.98 516.44 L498.70 516.83 L497.45 517.10 L496.23 517.24 L495.06 517.24 L493.94 517.12 L492.87 516.87 L491.88 516.50 L490.95 515.99 L489.34 514.98 L488.49 514.36 L487.73 513.62 L487.04 512.76 L486.45 511.80 L485.96 510.74 L485.56 509.58 L485.26 508.34 L485.06 507.01 L484.97 505.61 L484.98 504.15 L485.10 502.63 L485.31 501.07 L485.63 499.47 L486.05 497.85 L486.57 496.21 L487.17 494.56 L487.87 492.92 L488.66 491.29 L489.53 489.69 L490.47 488.12 L491.48 486.60 L492.55 485.13 L493.69 483.72 L494.87 482.39 L496.09 481.13 L497.35 479.96 L498.64 478.89 L499.95 477.92 L501.27 477.05 L502.59 476.30 L503.91 475.66 L505.21 475.14 L506.49 474.75 L507.75 474.49 L508.96 474.35 L510.13 474.34 L511.26 474.46 L512.32 474.71 L513.32 475.09 L514.24 475.59 Z" fill="#fcfefc" stroke="none" stroke-width="0.00" stroke-linejoin="round" stroke-linecap="round" />
<path d="M491.27 515.86 L490.17 515.44 L489.17 514.86 L488.25 514.15 L487.44 513.29 L486.74 512.30 L486.14 511.18 L485.67 509.94 L485.31 508.59 L485.08 507.15 L484.97 505.61 L484.99 504.00 L485.13 502.32 L485.40 500.59 L485.79 498.82 L486.30 497.03 L486.92 495.22 L487.65 493.41 L488.50 491.62 L489.44 489.85 L490.47 488.12 L491.58 486.45 L492.78 484.84 L494.04 483.32 L495.35 481.88 L496.72 480.54 L498.12 479.31 L499.56 478.20 L501.00 477.21 L502.46 476.37 L503.91 475.66 L505.34 475.10 L506.74 474.69 L508.11 474.43 L509.44 474.33 L510.70 474.39 L511.90 474.60 L513.03 474.96 L514.06 475.48 L515.01 476.15 L515.86 476.95" fill="none" stroke="#000" stroke-width="0.90" stroke-linejoin="round" stroke-linecap="round" />
<ellipse cx="503.40" cy="496.30" rx="23.30" ry="13.40" transform="rotate(-57.70 503.40 496.30)" fill="none" stroke="#000" stroke-width="0.90"/>
<ellipse cx="504.20" cy="497.50" rx="11.60" ry="6.60" transform="rotate(-57.70 504.20 497.50)" fill="none" stroke="#000" stroke-width="0.90"/>
<path d="M498.54 506.35 L498.29 505.76 L498.11 505.10 L497.99 504.39 L497.94 503.62 L497.96 502.81 L498.05 501.96 L498.20 501.07 L498.42 500.17 L498.71 499.25 L499.06 498.32 L499.47 497.40 L499.93 496.48 L500.45 495.59 L501.01 494.72 L501.61 493.88 L502.25 493.08 L502.92 492.33 L503.61 491.64 L504.33 491.01 L505.05 490.44" fill="none" stroke="#000" stroke-width="0.80" stroke-linejoin="round" stroke-linecap="round" />
<line x1="505.40" y1="498.27" x2="609.50" y2="557.88" stroke="#000" stroke-width="1.00" stroke-linecap="round"/>
<line x1="662.20" y1="588.06" x2="781.40" y2="656.31" stroke="#000" stroke-width="1.00" stroke-linecap="round"/>
<path d="M786.50 648.00 L1009.30 773.00 L1038.20 808.60 L779.60 662.40 Z" fill="#fcfefc" stroke="none" stroke-width="0.00" stroke-linejoin="round" stroke-linecap="round" />
<path d="M786.50 648.00 L1009.30 773.00" fill="none" stroke="#000" stroke-width="2.40" stroke-linejoin="round" stroke-linecap="round" />
<path d="M779.60 662.40 L1038.20 808.60" fill="none" stroke="#000" stroke-width="2.40" stroke-linejoin="round" stroke-linecap="round" />
<path d="M781.20 652.00 C781.43 651.50 781.72 649.73 782.60 649.00 C783.48 648.27 785.13 647.60 786.50 647.60 C787.87 647.60 790.08 648.77 790.80 649.00" fill="none" stroke="#000" stroke-width="2.00" stroke-linejoin="round" stroke-linecap="round" />
<path d="M781.00 658.50 C780.73 658.92 779.48 660.17 779.40 661.00 C779.32 661.83 780.32 663.08 780.50 663.50" fill="none" stroke="#000" stroke-width="2.00" stroke-linejoin="round" stroke-linecap="round" />
<line x1="786.70" y1="651.40" x2="802.70" y2="660.70" stroke="#000" stroke-width="0.80" stroke-linecap="round"/>
<line x1="808.10" y1="663.40" x2="881.50" y2="705.50" stroke="#000" stroke-width="0.80" stroke-linecap="round"/>
<line x1="888.20" y1="708.80" x2="964.30" y2="753.60" stroke="#000" stroke-width="0.80" stroke-linecap="round"/>
<line x1="970.30" y1="756.20" x2="1015.60" y2="782.10" stroke="#000" stroke-width="0.80" stroke-linecap="round"/>
<path d="M762.8 306.4 L605.4 495.3 Q583.8 521.2 605.4 547.2 L651.6 602.7 C653.5 605.0 656.0 604.8 665.1 604.6 C669.5 604.4 673.0 602.0 675.4 599.6 L679.5 592.1 L678.1 575.2 L632.3 519.7 L780.0 341.4 Z" fill="#fcfefc" stroke="none" stroke-width="0.00" stroke-linejoin="round" stroke-linecap="round" />
<path d="M762.8 306.4 L605.4 495.3 Q583.8 521.2 605.4 547.2 L651.6 602.7 C653.5 605.0 656.0 604.8 665.1 604.6 C669.5 604.4 673.0 602.0 675.4 599.6" fill="none" stroke="#000" stroke-width="2.60" stroke-linejoin="round" stroke-linecap="round" />
<path d="M780.0 341.4 L632.3 519.7 L678.1 575.2 L679.5 592.1" fill="none" stroke="#000" stroke-width="2.60" stroke-linejoin="round" stroke-linecap="round" />
<path d="M759.70 301.70 C761.52 302.73 767.62 305.30 770.60 307.90 C773.58 310.50 775.90 313.78 777.60 317.30 C779.30 320.82 780.10 325.50 780.80 329.00 C781.50 332.50 781.23 335.32 781.80 338.30 C782.37 341.28 783.08 344.30 784.20 346.90 C785.32 349.50 787.78 352.73 788.50 353.90" fill="none" stroke="#000" stroke-width="2.60" stroke-linejoin="round" stroke-linecap="round" />
<line x1="769.00" y1="311.00" x2="698.30" y2="395.40" stroke="#000" stroke-width="0.80" stroke-linecap="round"/>
<line x1="677.50" y1="420.40" x2="613.50" y2="497.00" stroke="#000" stroke-width="0.80" stroke-linecap="round"/>
<path d="M631.00 521.00 C630.88 521.58 630.33 523.27 630.30 524.50 C630.27 525.73 630.72 527.75 630.80 528.40" fill="none" stroke="#000" stroke-width="0.80" stroke-linejoin="round" stroke-linecap="round" />
<ellipse cx="750.40" cy="354.30" rx="7.30" ry="12.30" transform="rotate(12.00 750.40 354.30)" fill="none" stroke="#000" stroke-width="0.90"/>
<ellipse cx="750.60" cy="355.20" rx="4.90" ry="6.60" transform="rotate(12.00 750.60 355.20)" fill="none" stroke="#000" stroke-width="0.80"/>
<ellipse cx="688.50" cy="410.40" rx="6.30" ry="7.40" transform="rotate(12.00 688.50 410.40)" fill="none" stroke="#000" stroke-width="0.90"/>
<path d="M686.50 405.00 C686.08 405.83 684.17 408.08 684.00 410.00 C683.83 411.92 685.25 415.42 685.50 416.50" fill="none" stroke="#000" stroke-width="0.80" stroke-linejoin="round" stroke-linecap="round" />
<ellipse cx="682.00" cy="439.60" rx="7.60" ry="12.40" transform="rotate(12.00 682.00 439.60)" fill="none" stroke="#000" stroke-width="0.90"/>
<ellipse cx="682.80" cy="440.00" rx="4.30" ry="6.60" transform="rotate(12.00 682.80 440.00)" fill="none" stroke="#000" stroke-width="0.80"/>
<path d="M666.50 591.20 C665.50 591.27 662.22 592.05 660.50 591.60 C658.78 591.15 656.95 589.93 656.20 588.50 C655.45 587.07 655.45 584.48 656.00 583.00 C656.55 581.52 658.08 580.27 659.50 579.60 C660.92 578.93 662.88 578.83 664.50 579.00 C666.12 579.17 668.15 579.63 669.20 580.60 C670.25 581.57 670.70 583.57 670.80 584.80 C670.90 586.03 669.97 587.47 669.80 588.00" fill="none" stroke="#000" stroke-width="0.90" stroke-linejoin="round" stroke-linecap="round" />
<path d="M665.80 585.50 C665.77 584.75 665.27 581.87 665.60 581.00 C665.93 580.13 667.23 580.13 667.80 580.30 C668.37 580.47 668.80 581.08 669.00 582.00 C669.20 582.92 669.00 585.17 669.00 585.80" fill="none" stroke="#000" stroke-width="0.80" stroke-linejoin="round" stroke-linecap="round" />
<path d="M658.50 586.50 C658.38 586.92 657.58 588.38 657.80 589.00 C658.02 589.62 659.47 590.00 659.80 590.20" fill="none" stroke="#000" stroke-width="0.80" stroke-linejoin="round" stroke-linecap="round" />
<line x1="662.20" y1="588.06" x2="705.00" y2="612.56" stroke="#000" stroke-width="1.00" stroke-linecap="round"/>
<path d="M1185.2 522.9 L1019.2 720.9 Q993.9 751.1 1018.6 781.8 L1070.4 845.8 C1072.5 848.5 1075.0 849.2 1083.4 849.0 C1087.0 848.6 1089.8 846.2 1091.7 843.4 L1095.9 823.2 L1040.2 756.1 L1199.2 565.0 Z" fill="#fcfefc" stroke="none" stroke-width="0.00" stroke-linejoin="round" stroke-linecap="round" />
<path d="M1185.2 522.9 L1019.2 720.9 Q993.9 751.1 1018.6 781.8 L1070.4 845.8 C1072.5 848.5 1075.0 849.2 1083.4 849.0 C1087.0 848.6 1089.8 846.2 1091.7 843.4" fill="none" stroke="#000" stroke-width="2.60" stroke-linejoin="round" stroke-linecap="round" />
<path d="M1199.2 565.0 L1040.2 756.1 L1095.9 823.2" fill="none" stroke="#000" stroke-width="2.60" stroke-linejoin="round" stroke-linecap="round" />
<path d="M1176.60 516.30 C1178.28 517.15 1183.72 519.00 1186.70 521.40 C1189.68 523.80 1192.55 527.47 1194.50 530.70 C1196.45 533.93 1197.42 537.03 1198.40 540.80 C1199.38 544.57 1199.88 549.67 1200.40 553.30 C1200.92 556.93 1200.92 559.62 1201.50 562.60 C1202.08 565.58 1203.50 569.77 1203.90 571.20" fill="none" stroke="#000" stroke-width="2.60" stroke-linejoin="round" stroke-linecap="round" />
<line x1="1189.10" y1="529.20" x2="1107.60" y2="628.30" stroke="#000" stroke-width="0.80" stroke-linecap="round"/>
<line x1="1086.00" y1="653.50" x2="1022.30" y2="729.50" stroke="#000" stroke-width="0.80" stroke-linecap="round"/>
<path d="M1039.60 757.50 C1039.37 758.25 1038.18 760.38 1038.20 762.00 C1038.22 763.62 1039.45 766.33 1039.70 767.20" fill="none" stroke="#000" stroke-width="0.80" stroke-linejoin="round" stroke-linecap="round" />
<ellipse cx="1179.30" cy="573.40" rx="7.00" ry="12.20" transform="rotate(12.00 1179.30 573.40)" fill="none" stroke="#000" stroke-width="0.90"/>
<ellipse cx="1179.90" cy="574.60" rx="4.80" ry="6.80" transform="rotate(12.00 1179.90 574.60)" fill="none" stroke="#000" stroke-width="0.80"/>
<ellipse cx="1098.30" cy="644.60" rx="6.10" ry="6.90" transform="rotate(12.00 1098.30 644.60)" fill="none" stroke="#000" stroke-width="0.90"/>
<path d="M1099.00 639.80 C1098.53 640.25 1096.73 641.38 1096.20 642.50 C1095.67 643.62 1095.53 645.25 1095.80 646.50 C1096.07 647.75 1097.47 649.42 1097.80 650.00" fill="none" stroke="#000" stroke-width="0.80" stroke-linejoin="round" stroke-linecap="round" />
<ellipse cx="1089.00" cy="680.50" rx="7.20" ry="12.20" transform="rotate(12.00 1089.00 680.50)" fill="none" stroke="#000" stroke-width="0.90"/>
<ellipse cx="1089.80" cy="681.00" rx="4.20" ry="6.80" transform="rotate(12.00 1089.80 681.00)" fill="none" stroke="#000" stroke-width="0.80"/>
<path d="M1092.3 820.9 C1089 818.5 1085.5 816.7 1082.2 816.7 C1078.5 816.7 1075.1 817.5 1073.2 820.5 C1071.3 823.5 1071.2 827.5 1072.1 830.4 C1073.0 832.3 1075.0 833.0 1077.5 833.3 L1214.5 912.3 C1215.5 913.6 1216.7 914.1 1218.5 914.1 L1222.5 913.6 L1224.3 913.0 L1228.1 905.6 C1228.0 903.4 1227.0 901.0 1225.7 899.4 L1221.2 897.6 L1095.9 825.0 Z" fill="#fcfefc" stroke="none" stroke-width="0.00" stroke-linejoin="round" stroke-linecap="round" />
<path d="M1092.3 820.9 C1089 818.5 1085.5 816.7 1082.2 816.7 C1078.5 816.7 1075.1 817.5 1073.2 820.5 C1071.3 823.5 1071.2 827.5 1072.1 830.4 C1073.0 832.3 1075.0 833.0 1077.5 833.3 L1214.5 912.3 C1215.5 913.6 1216.7 914.1 1218.5 914.1 C1220.5 914.1 1222.5 913.8 1224.3 913.0" fill="none" stroke="#000" stroke-width="2.40" stroke-linejoin="round" stroke-linecap="round" />
<path d="M1095.9 825.0 L1221.2 897.6 C1223.5 898.5 1225.7 899.4 1226.8 901.4 C1227.9 903.4 1228.1 904.5 1228.1 905.6" fill="none" stroke="#000" stroke-width="2.40" stroke-linejoin="round" stroke-linecap="round" />
<path d="M1222.10 898.90 C1221.33 899.33 1218.60 900.32 1217.50 901.50 C1216.40 902.68 1215.83 904.58 1215.50 906.00 C1215.17 907.42 1215.32 908.88 1215.50 910.00 C1215.68 911.12 1216.42 912.25 1216.60 912.70" fill="none" stroke="#000" stroke-width="0.90" stroke-linejoin="round" stroke-linecap="round" />
<line x1="1080.40" y1="820.30" x2="1095.30" y2="828.90" stroke="#000" stroke-width="0.80" stroke-linecap="round"/>
<line x1="1100.30" y1="832.70" x2="1123.80" y2="845.80" stroke="#000" stroke-width="0.80" stroke-linecap="round"/>
<line x1="1133.70" y1="851.20" x2="1214.10" y2="897.20" stroke="#000" stroke-width="0.80" stroke-linecap="round"/>
<line x1="1221.40" y1="908.25" x2="1261.30" y2="931.10" stroke="#000" stroke-width="1.00" stroke-linecap="round"/>
<path d="M1287.25 918.01 L1288.10 918.63 L1288.87 919.37 L1289.55 920.22 L1290.14 921.18 L1290.64 922.24 L1291.04 923.40 L1291.33 924.65 L1291.53 925.98 L1291.62 927.37 L1291.61 928.84 L1291.50 930.35 L1291.28 931.92 L1290.96 933.51 L1290.54 935.14 L1290.03 936.78 L1289.42 938.42 L1288.72 940.06 L1287.93 941.69 L1287.07 943.29 L1286.13 944.86 L1285.11 946.38 L1284.04 947.85 L1282.91 949.26 L1281.72 950.60 L1280.50 951.85 L1279.24 953.02 L1277.95 954.10 L1276.65 955.07 L1275.33 955.94 L1274.01 956.69 L1272.69 957.33 L1271.38 957.84 L1270.10 958.23 L1268.85 958.50 L1267.63 958.64 L1266.46 958.64 L1265.34 958.52 L1264.27 958.27 L1263.28 957.90 L1262.35 957.39 L1260.74 956.38 L1259.89 955.76 L1259.13 955.02 L1258.44 954.16 L1257.85 953.20 L1257.36 952.14 L1256.96 950.98 L1256.66 949.74 L1256.46 948.41 L1256.37 947.01 L1256.38 945.55 L1256.50 944.03 L1256.71 942.47 L1257.03 940.87 L1257.45 939.25 L1257.97 937.61 L1258.57 935.96 L1259.27 934.32 L1260.06 932.69 L1260.93 931.09 L1261.87 929.52 L1262.88 928.00 L1263.95 926.53 L1265.09 925.12 L1266.27 923.79 L1267.49 922.53 L1268.75 921.36 L1270.04 920.29 L1271.35 919.32 L1272.67 918.45 L1273.99 917.70 L1275.31 917.06 L1276.61 916.54 L1277.89 916.15 L1279.15 915.89 L1280.36 915.75 L1281.53 915.74 L1282.66 915.86 L1283.72 916.11 L1284.72 916.49 L1285.64 916.99 Z" fill="#fcfefc" stroke="none" stroke-width="0.00" stroke-linejoin="round" stroke-linecap="round" />
<path d="M1262.67 957.26 L1261.57 956.84 L1260.57 956.26 L1259.65 955.55 L1258.84 954.69 L1258.14 953.70 L1257.54 952.58 L1257.07 951.34 L1256.71 949.99 L1256.48 948.55 L1256.37 947.01 L1256.39 945.40 L1256.53 943.72 L1256.80 941.99 L1257.19 940.22 L1257.70 938.43 L1258.32 936.62 L1259.05 934.81 L1259.90 933.02 L1260.84 931.25 L1261.87 929.52 L1262.98 927.85 L1264.18 926.24 L1265.44 924.72 L1266.75 923.28 L1268.12 921.94 L1269.52 920.71 L1270.96 919.60 L1272.40 918.61 L1273.86 917.77 L1275.31 917.06 L1276.74 916.50 L1278.14 916.09 L1279.51 915.83 L1280.84 915.73 L1282.10 915.79 L1283.30 916.00 L1284.43 916.36 L1285.46 916.88 L1286.41 917.55 L1287.26 918.35" fill="none" stroke="#000" stroke-width="0.90" stroke-linejoin="round" stroke-linecap="round" />
<ellipse cx="1274.80" cy="937.70" rx="23.30" ry="13.40" transform="rotate(-57.70 1274.80 937.70)" fill="none" stroke="#000" stroke-width="0.90"/>
<ellipse cx="1275.60" cy="938.80" rx="11.60" ry="6.60" transform="rotate(-57.70 1275.60 938.80)" fill="none" stroke="#000" stroke-width="0.90"/>
<path d="M1269.94 947.65 L1269.69 947.06 L1269.51 946.40 L1269.39 945.69 L1269.34 944.92 L1269.36 944.11 L1269.45 943.26 L1269.60 942.37 L1269.82 941.47 L1270.11 940.55 L1270.46 939.62 L1270.87 938.70 L1271.33 937.78 L1271.85 936.89 L1272.41 936.02 L1273.01 935.18 L1273.65 934.38 L1274.32 933.63 L1275.01 932.94 L1275.73 932.31 L1276.45 931.74" fill="none" stroke="#000" stroke-width="0.80" stroke-linejoin="round" stroke-linecap="round" />
<line x1="1276.10" y1="939.57" x2="1366.00" y2="991.05" stroke="#000" stroke-width="1.00" stroke-linecap="round"/>
<ellipse cx="1471.20" cy="1050.20" rx="122.90" ry="70.80" transform="rotate(-57.70 1471.20 1050.20)" fill="#000" stroke="none" stroke-width="1.00"/>
<path d="M1358.83 1122.19 L1357.14 1120.32 L1355.54 1118.34 L1354.04 1116.25 L1352.63 1114.05 L1351.32 1111.74 L1350.10 1109.32 L1348.98 1106.80 L1347.97 1104.19 L1347.05 1101.48 L1346.24 1098.68 L1345.53 1095.78 L1344.92 1092.81 L1344.42 1089.75 L1344.02 1086.61 L1343.73 1083.40 L1343.55 1080.12 L1343.47 1076.77 L1343.50 1073.36 L1343.64 1069.89 L1343.88 1066.37 L1344.23 1062.79 L1344.68 1059.17 L1345.24 1055.51 L1345.91 1051.82 L1346.68 1048.09 L1347.55 1044.33 L1348.52 1040.55 L1349.60 1036.75 L1350.77 1032.93 L1352.04 1029.11 L1353.41 1025.28 L1354.87 1021.45 L1356.42 1017.62 L1358.07 1013.80 L1359.81 1010.00 L1361.63 1006.21 L1363.54 1002.44 L1365.52 998.71 L1367.60 995.00 L1369.74 991.33 L1371.97 987.69 L1374.26 984.11 L1376.63 980.57 L1379.06 977.08 L1381.55 973.66 L1384.11 970.29 L1386.73 966.99 L1389.40 963.76 L1392.12 960.60 L1394.89 957.52 L1397.70 954.51 L1400.56 951.60 L1403.45 948.77 L1406.38 946.03 L1409.34 943.39 L1412.33 940.84 L1415.34 938.40 L1418.37 936.05 L1421.42 933.82 L1424.48 931.69 L1427.55 929.68 L1430.63 927.78 L1433.71 926.00 L1436.78 924.33 L1439.85 922.79 L1442.92 921.37 L1445.97 920.07 L1449.00 918.90 L1452.01 917.85 L1455.00 916.93 L1457.97 916.15 L1460.90 915.49 L1463.80 914.96 L1466.66 914.57 L1469.47 914.31 L1472.25 914.18 L1474.97 914.18 L1477.65 914.32 L1480.27 914.59 L1482.83 914.99 L1483.50 917.25 L1470.24 917.23 L1467.71 917.65 L1465.15 918.16 L1462.57 918.77 L1459.98 919.48 L1457.37 920.28 L1454.74 921.18 L1452.10 922.17 L1449.45 923.25 L1446.80 924.42 L1444.13 925.68 L1441.47 927.04 L1438.80 928.48 L1436.13 930.00 L1433.47 931.62 L1430.81 933.31 L1428.15 935.09 L1425.51 936.95 L1422.88 938.89 L1420.26 940.90 L1417.65 942.99 L1415.07 945.16 L1412.50 947.39 L1409.96 949.70 L1407.44 952.07 L1404.95 954.51 L1402.49 957.02 L1400.05 959.58 L1397.65 962.21 L1395.29 964.89 L1392.96 967.63 L1390.67 970.42 L1388.42 973.26 L1386.21 976.14 L1384.05 979.08 L1381.93 982.05 L1379.86 985.07 L1377.84 988.12 L1375.87 991.21 L1373.96 994.34 L1372.10 997.49 L1370.29 1000.67 L1368.55 1003.87 L1366.86 1007.09 L1365.23 1010.34 L1363.67 1013.60 L1362.17 1016.87 L1360.73 1020.15 L1359.37 1023.45 L1358.06 1026.74 L1356.83 1030.04 L1355.67 1033.34 L1354.57 1036.64 L1353.55 1039.93 L1352.60 1043.21 L1351.73 1046.48 L1350.92 1049.73 L1350.20 1052.97 L1349.54 1056.19 L1348.97 1059.38 L1348.47 1062.55 L1348.04 1065.70 L1347.70 1068.81 L1347.43 1071.89 L1347.24 1074.93 L1347.13 1077.94 L1347.10 1080.90 L1347.15 1083.82 L1347.28 1086.70 L1347.48 1089.53 L1347.77 1092.31 L1348.13 1095.03 L1348.57 1097.70 L1349.09 1100.32 L1349.69 1102.87 L1350.37 1105.36 L1351.13 1107.79 L1351.96 1110.15 L1352.87 1112.45 L1353.86 1114.67 L1354.93 1116.82 L1358.50 1124.00 Z" fill="#000" stroke="none" stroke-width="0.00" stroke-linejoin="round" stroke-linecap="round" />
<path d="M1371.59 1132.61 L1369.40 1131.04 L1367.32 1129.33 L1365.33 1127.47 L1363.45 1125.47 L1361.68 1123.33 L1360.02 1121.05 L1358.47 1118.65 L1357.04 1116.11 L1355.72 1113.45 L1354.52 1110.67 L1353.44 1107.77 L1352.49 1104.76 L1351.65 1101.64 L1350.95 1098.41 L1350.36 1095.09 L1349.91 1091.67 L1349.58 1088.16 L1349.38 1084.57 L1349.30 1080.89 L1349.36 1077.15 L1349.54 1073.33 L1349.85 1069.45 L1350.28 1065.51 L1350.85 1061.52 L1351.54 1057.49 L1352.35 1053.41 L1353.29 1049.30 L1354.35 1045.16 L1355.53 1041.00 L1356.83 1036.82 L1358.24 1032.63 L1359.78 1028.43 L1361.42 1024.24 L1363.17 1020.05 L1365.04 1015.88 L1367.01 1011.72 L1369.08 1007.59 L1371.25 1003.49 L1373.51 999.43 L1375.87 995.42 L1378.32 991.45 L1380.86 987.53 L1383.48 983.68 L1386.17 979.89 L1388.94 976.18 L1391.79 972.53 L1394.70 968.98 L1397.67 965.50 L1400.70 962.12 L1403.78 958.84 L1406.92 955.66 L1410.09 952.58 L1413.31 949.62 L1416.57 946.77 L1419.85 944.04 L1423.17 941.43 L1426.50 938.95 L1429.85 936.59 L1433.21 934.38 L1436.58 932.29 L1439.95 930.35 L1443.32 928.55 L1446.68 926.90 L1450.03 925.39 L1453.37 924.03 L1456.68 922.83 L1459.96 921.78 L1463.21 920.88 L1466.43 920.14 L1469.60 919.55 L1472.74 919.13 L1475.82 918.86 L1478.84 918.75 L1481.81 918.80 L1484.71 919.01 L1487.55 919.38 L1490.32 919.91 L1493.01 920.59 L1495.62 921.44 L1498.15 922.43 L1498.50 924.25 L1485.65 923.71 L1483.05 923.96 L1480.41 924.32 L1477.74 924.79 L1475.05 925.37 L1472.34 926.05 L1469.61 926.84 L1466.86 927.73 L1464.10 928.73 L1461.32 929.83 L1458.53 931.03 L1455.74 932.33 L1452.94 933.73 L1450.14 935.22 L1447.34 936.81 L1444.54 938.50 L1441.75 940.28 L1438.96 942.15 L1436.19 944.10 L1433.43 946.15 L1430.68 948.28 L1427.95 950.49 L1425.24 952.78 L1422.56 955.15 L1419.90 957.60 L1417.26 960.13 L1414.66 962.72 L1412.09 965.38 L1409.55 968.11 L1407.06 970.91 L1404.60 973.77 L1402.18 976.68 L1399.81 979.65 L1397.48 982.68 L1395.21 985.75 L1392.98 988.87 L1390.81 992.04 L1388.69 995.25 L1386.63 998.50 L1384.62 1001.78 L1382.68 1005.09 L1380.80 1008.44 L1378.99 1011.81 L1377.24 1015.20 L1375.55 1018.62 L1373.94 1022.04 L1372.40 1025.49 L1370.93 1028.94 L1369.53 1032.40 L1368.21 1035.87 L1366.97 1039.33 L1365.80 1042.79 L1364.71 1046.25 L1363.70 1049.69 L1362.78 1053.13 L1361.93 1056.55 L1361.16 1059.95 L1360.48 1063.32 L1359.89 1066.68 L1359.37 1070.00 L1358.95 1073.29 L1358.60 1076.55 L1358.35 1079.77 L1358.18 1082.95 L1358.10 1086.09 L1358.10 1089.18 L1358.19 1092.23 L1358.37 1095.22 L1358.64 1098.15 L1358.99 1101.03 L1359.43 1103.85 L1359.96 1106.61 L1360.57 1109.30 L1361.27 1111.93 L1362.06 1114.48 L1362.93 1116.96 L1363.88 1119.37 L1364.93 1121.70 L1366.05 1123.94 L1367.26 1126.11 L1368.55 1128.19 L1372.50 1135.00 Z" fill="#000" stroke="none" stroke-width="0.00" stroke-linejoin="round" stroke-linecap="round" />
<path d="M1382.48 1139.49 L1380.31 1137.94 L1378.25 1136.25 L1376.29 1134.42 L1374.42 1132.44 L1372.67 1130.33 L1371.02 1128.09 L1369.48 1125.72 L1368.05 1123.23 L1366.74 1120.61 L1365.54 1117.87 L1364.46 1115.02 L1363.50 1112.06 L1362.66 1108.99 L1361.94 1105.81 L1361.34 1102.54 L1360.87 1099.18 L1360.52 1095.73 L1360.29 1092.19 L1360.19 1088.58 L1360.22 1084.89 L1360.37 1081.13 L1360.64 1077.31 L1361.04 1073.43 L1361.57 1069.50 L1362.21 1065.52 L1362.98 1061.50 L1363.87 1057.45 L1364.88 1053.36 L1366.01 1049.25 L1367.26 1045.13 L1368.62 1040.99 L1370.09 1036.84 L1371.68 1032.69 L1373.37 1028.55 L1375.17 1024.42 L1377.07 1020.30 L1379.08 1016.21 L1381.18 1012.15 L1383.38 1008.11 L1385.67 1004.12 L1388.06 1000.18 L1390.52 996.28 L1393.07 992.44 L1395.70 988.66 L1398.40 984.95 L1401.18 981.31 L1404.02 977.75 L1406.92 974.27 L1409.89 970.88 L1412.91 967.58 L1415.98 964.38 L1419.09 961.27 L1422.25 958.28 L1425.45 955.39 L1428.68 952.62 L1431.94 949.96 L1435.22 947.42 L1438.52 945.01 L1441.84 942.73 L1445.17 940.58 L1448.50 938.57 L1451.83 936.69 L1455.16 934.95 L1458.48 933.36 L1461.79 931.91 L1465.08 930.60 L1468.35 929.45 L1471.59 928.44 L1474.79 927.59 L1477.97 926.89 L1481.10 926.34 L1484.18 925.95 L1487.22 925.71 L1490.20 925.63 L1493.13 925.71 L1495.99 925.94 L1498.78 926.32 L1501.51 926.86 L1504.16 927.55 L1506.74 928.40 L1507.50 929.50 L1494.31 930.90 L1491.72 931.24 L1489.10 931.69 L1486.46 932.23 L1483.80 932.88 L1481.12 933.64 L1478.42 934.49 L1475.71 935.45 L1472.98 936.50 L1470.24 937.65 L1467.50 938.90 L1464.75 940.25 L1462.00 941.69 L1459.24 943.22 L1456.49 944.85 L1453.74 946.56 L1451.00 948.37 L1448.26 950.26 L1445.54 952.23 L1442.83 954.29 L1440.14 956.43 L1437.47 958.65 L1434.81 960.95 L1432.18 963.32 L1429.58 965.76 L1427.00 968.28 L1424.46 970.86 L1421.95 973.51 L1419.47 976.23 L1417.03 979.00 L1414.62 981.83 L1412.26 984.72 L1409.95 987.66 L1407.67 990.66 L1405.45 993.70 L1403.28 996.78 L1401.15 999.91 L1399.09 1003.08 L1397.07 1006.28 L1395.12 1009.52 L1393.22 1012.79 L1391.39 1016.08 L1389.61 1019.40 L1387.90 1022.74 L1386.26 1026.10 L1384.69 1029.48 L1383.18 1032.87 L1381.74 1036.27 L1380.38 1039.67 L1379.08 1043.08 L1377.87 1046.49 L1376.72 1049.89 L1375.66 1053.29 L1374.67 1056.68 L1373.75 1060.06 L1372.92 1063.42 L1372.17 1066.76 L1371.50 1070.09 L1370.90 1073.38 L1370.39 1076.66 L1369.97 1079.90 L1369.62 1083.10 L1369.36 1086.28 L1369.18 1089.41 L1369.09 1092.50 L1369.08 1095.55 L1369.16 1098.55 L1369.32 1101.50 L1369.56 1104.40 L1369.89 1107.24 L1370.30 1110.03 L1370.79 1112.76 L1371.37 1115.42 L1372.04 1118.02 L1372.79 1120.55 L1373.62 1123.01 L1374.53 1125.40 L1375.52 1127.71 L1376.60 1129.95 L1377.75 1132.11 L1378.99 1134.18 L1383.50 1140.50 Z" fill="#000" stroke="none" stroke-width="0.00" stroke-linejoin="round" stroke-linecap="round" />
<path d="M1392.63 1145.87 L1390.51 1144.28 L1388.48 1142.54 L1386.56 1140.67 L1384.73 1138.66 L1383.02 1136.52 L1381.41 1134.24 L1379.91 1131.84 L1378.52 1129.31 L1377.24 1126.67 L1376.08 1123.90 L1375.04 1121.02 L1374.12 1118.04 L1373.32 1114.95 L1372.64 1111.76 L1372.08 1108.47 L1371.64 1105.09 L1371.33 1101.62 L1371.14 1098.08 L1371.08 1094.45 L1371.13 1090.75 L1371.32 1086.99 L1371.63 1083.17 L1372.06 1079.29 L1372.61 1075.35 L1373.29 1071.38 L1374.08 1067.36 L1375.00 1063.31 L1376.04 1059.23 L1377.19 1055.13 L1378.46 1051.01 L1379.84 1046.88 L1381.34 1042.75 L1382.95 1038.62 L1384.66 1034.49 L1386.48 1030.37 L1388.40 1026.28 L1390.42 1022.20 L1392.54 1018.16 L1394.75 1014.15 L1397.05 1010.18 L1399.44 1006.25 L1401.92 1002.38 L1404.48 998.56 L1407.11 994.81 L1409.82 991.12 L1412.60 987.51 L1415.44 983.98 L1418.35 980.52 L1421.32 977.16 L1424.34 973.89 L1427.41 970.71 L1430.52 967.63 L1433.68 964.66 L1436.87 961.80 L1440.09 959.06 L1443.35 956.43 L1446.62 953.92 L1449.92 951.54 L1453.22 949.29 L1456.54 947.16 L1459.86 945.17 L1463.19 943.32 L1466.50 941.61 L1469.81 940.04 L1473.11 938.61 L1476.38 937.33 L1479.64 936.20 L1482.86 935.21 L1486.06 934.38 L1489.21 933.70 L1492.33 933.17 L1495.40 932.80 L1498.42 932.58 L1501.39 932.52 L1504.30 932.60 L1507.15 932.85 L1509.93 933.25 L1512.64 933.80 L1515.28 934.50 L1517.84 935.36 L1518.50 936.50 L1505.32 938.06 L1502.75 938.41 L1500.16 938.86 L1497.55 939.41 L1494.91 940.06 L1492.26 940.81 L1489.59 941.66 L1486.90 942.61 L1484.20 943.65 L1481.49 944.79 L1478.78 946.03 L1476.05 947.36 L1473.33 948.79 L1470.60 950.30 L1467.88 951.91 L1465.16 953.60 L1462.44 955.38 L1459.74 957.25 L1457.04 959.20 L1454.36 961.23 L1451.69 963.34 L1449.05 965.52 L1446.42 967.79 L1443.81 970.13 L1441.23 972.54 L1438.68 975.01 L1436.15 977.56 L1433.66 980.17 L1431.20 982.85 L1428.78 985.58 L1426.39 988.37 L1424.05 991.22 L1421.74 994.12 L1419.48 997.07 L1417.27 1000.07 L1415.11 1003.11 L1412.99 1006.20 L1410.93 1009.32 L1408.92 1012.48 L1406.97 1015.68 L1405.08 1018.90 L1403.24 1022.15 L1401.47 1025.43 L1399.75 1028.73 L1398.10 1032.05 L1396.52 1035.39 L1395.00 1038.74 L1393.56 1042.10 L1392.18 1045.47 L1390.87 1048.84 L1389.63 1052.21 L1388.47 1055.58 L1387.38 1058.95 L1386.37 1062.31 L1385.43 1065.66 L1384.57 1068.99 L1383.79 1072.31 L1383.09 1075.61 L1382.46 1078.88 L1381.92 1082.14 L1381.45 1085.36 L1381.07 1088.55 L1380.77 1091.71 L1380.55 1094.83 L1380.41 1097.92 L1380.35 1100.96 L1380.38 1103.95 L1380.49 1106.90 L1380.68 1109.80 L1380.95 1112.65 L1381.31 1115.44 L1381.75 1118.18 L1382.27 1120.85 L1382.87 1123.47 L1383.56 1126.02 L1384.33 1128.50 L1385.17 1130.91 L1386.10 1133.25 L1387.11 1135.52 L1388.20 1137.71 L1389.37 1139.82 L1393.50 1146.50 Z" fill="#000" stroke="none" stroke-width="0.00" stroke-linejoin="round" stroke-linecap="round" />
<ellipse cx="1470.70" cy="1050.50" rx="88.80" ry="51.20" transform="rotate(-57.70 1470.70 1050.50)" fill="#fcfefc" stroke="none" stroke-width="1.00"/>
<ellipse cx="1470.00" cy="1048.50" rx="86.20" ry="48.60" transform="rotate(-57.70 1470.00 1048.50)" fill="#000" stroke="none" stroke-width="1.00"/>
<ellipse cx="1470.10" cy="1048.60" rx="85.10" ry="47.50" transform="rotate(-57.70 1470.10 1048.60)" fill="#fcfefc" stroke="none" stroke-width="1.00"/>
<path d="M1491.40 973.17 L1489.96 973.48 L1488.51 973.84 L1487.05 974.25 L1485.58 974.70 L1484.09 975.20 L1482.60 975.74 L1481.10 976.34 L1479.59 976.98 L1478.08 977.66 L1476.56 978.39 L1475.04 979.16 L1473.51 979.98 L1471.98 980.84 L1470.46 981.75 L1468.93 982.70 L1467.40 983.68 L1465.87 984.71 L1464.35 985.79 L1462.83 986.90 L1461.31 988.05 L1459.80 989.23 L1458.30 990.46 L1456.80 991.72 L1455.31 993.02 L1453.83 994.36 L1452.37 995.73 L1450.91 997.13 L1449.47 998.57 L1448.03 1000.03 L1446.62 1001.53 L1445.21 1003.06 L1443.83 1004.62 L1442.46 1006.20 L1441.11 1007.81 L1439.77 1009.45 L1438.46 1011.11 L1437.16 1012.80 L1435.89 1014.51 L1434.64 1016.24 L1433.41 1017.99 L1432.20 1019.76 L1431.02 1021.55 L1429.86 1023.36 L1428.73 1025.18 L1427.63 1027.02 L1426.55 1028.87 L1425.50 1030.73 L1424.47 1032.61 L1423.48 1034.49 L1422.52 1036.39 L1421.58 1038.29 L1420.68 1040.20 L1419.81 1042.11 L1418.97 1044.03 L1418.16 1045.95 L1417.39 1047.87 L1416.65 1049.79 L1415.94 1051.72 L1415.27 1053.64 L1414.64 1055.55 L1414.03 1057.47 L1413.47 1059.37 L1412.94 1061.27 L1412.44 1063.17 L1411.99 1065.05 L1411.57 1066.92 L1411.18 1068.78 L1410.84 1070.63 L1410.53 1072.46 L1410.26 1074.28 L1410.03 1076.08 L1409.84 1077.87 L1409.68 1079.64 L1409.56 1081.38 L1409.48 1083.11 L1409.44 1084.81 L1409.44 1086.49 L1409.48 1088.15 L1409.55 1089.78 L1409.67 1091.39 L1409.82 1092.96 L1410.01 1094.51 L1410.24 1096.04 L1410.51 1097.53 L1410.81 1098.99 L1411.16 1100.41 L1411.54 1101.81 L1411.95 1103.17 L1412.41 1104.50 L1412.90 1105.79 L1412.90 1105.79 L1413.42 1104.13 L1413.45 1102.68 L1413.42 1101.26 L1413.38 1099.84 L1413.35 1098.42 L1413.32 1096.98 L1413.32 1095.53 L1413.33 1094.06 L1413.36 1092.58 L1413.42 1091.07 L1413.51 1089.55 L1413.62 1088.01 L1413.76 1086.45 L1413.93 1084.87 L1414.13 1083.27 L1414.35 1081.65 L1414.60 1080.02 L1414.89 1078.37 L1415.20 1076.70 L1415.54 1075.01 L1415.92 1073.32 L1416.32 1071.60 L1416.75 1069.88 L1417.21 1068.14 L1417.71 1066.38 L1418.23 1064.62 L1418.78 1062.85 L1419.36 1061.07 L1419.97 1059.28 L1420.61 1057.49 L1421.28 1055.69 L1421.98 1053.88 L1422.71 1052.07 L1423.46 1050.26 L1424.24 1048.45 L1425.05 1046.64 L1425.89 1044.82 L1426.75 1043.01 L1427.64 1041.20 L1428.55 1039.40 L1429.49 1037.60 L1430.45 1035.81 L1431.44 1034.03 L1432.44 1032.25 L1433.48 1030.48 L1434.53 1028.73 L1435.61 1026.98 L1436.70 1025.25 L1437.82 1023.53 L1438.95 1021.83 L1440.11 1020.14 L1441.28 1018.47 L1442.47 1016.81 L1443.67 1015.18 L1444.90 1013.56 L1446.13 1011.97 L1447.38 1010.40 L1448.65 1008.84 L1449.92 1007.32 L1451.21 1005.81 L1452.51 1004.34 L1453.82 1002.88 L1455.14 1001.46 L1456.47 1000.06 L1457.81 998.69 L1459.15 997.34 L1460.50 996.03 L1461.85 994.74 L1463.21 993.49 L1464.57 992.27 L1465.94 991.07 L1467.30 989.91 L1468.67 988.78 L1470.04 987.68 L1471.41 986.62 L1472.78 985.59 L1474.15 984.58 L1475.51 983.61 L1476.87 982.68 L1478.23 981.77 L1479.58 980.89 L1480.93 980.04 L1482.28 979.22 L1483.62 978.42 L1484.95 977.65 L1486.28 976.89 L1487.60 976.13 L1488.91 975.36 L1490.20 974.53 L1491.40 973.17 Z" fill="#000" stroke="none" stroke-width="0.00" stroke-linejoin="round" stroke-linecap="round" />
<ellipse cx="1458.20" cy="1044.30" rx="58.90" ry="33.90" transform="rotate(-57.70 1458.20 1044.30)" fill="none" stroke="#000" stroke-width="1.00"/>
<path d="M1491.91 995.51 L1491.50 995.18 L1491.08 994.87 L1490.65 994.56 L1490.21 994.27 L1489.77 993.98 L1489.32 993.71 L1488.86 993.45 L1488.39 993.21 L1487.92 992.97 L1487.44 992.75 L1486.96 992.54 L1486.46 992.34 L1485.97 992.15 L1485.46 991.98 L1484.95 991.81 L1484.43 991.66 L1483.91 991.53 L1483.38 991.40 L1482.84 991.29 L1482.30 991.19 L1481.76 991.10 L1481.21 991.02 L1480.65 990.96 L1480.09 990.90 L1479.52 990.87 L1478.95 990.84 L1478.38 990.82 L1477.80 990.82 L1477.21 990.83 L1476.62 990.85 L1476.03 990.89 L1475.43 990.94 L1474.83 991.00 L1474.23 991.07 L1473.62 991.15 L1473.01 991.25 L1472.40 991.35 L1471.78 991.47 L1471.16 991.61 L1470.54 991.75 L1469.91 991.91 L1469.29 992.08 L1468.66 992.26 L1468.02 992.45 L1467.39 992.65 L1466.75 992.87 L1466.11 993.10 L1465.47 993.34 L1464.83 993.59 L1464.19 993.85 L1463.55 994.12 L1462.90 994.41 L1462.25 994.70 L1461.61 995.01 L1460.96 995.33 L1460.31 995.66 L1459.66 996.00 L1459.01 996.36 L1458.36 996.72 L1457.71 997.09 L1457.06 997.48 L1456.42 997.87 L1455.77 998.28 L1455.12 998.70 L1454.47 999.12 L1453.83 999.56 L1453.18 1000.01 L1452.54 1000.46 L1451.89 1000.93 L1451.25 1001.41 L1450.61 1001.89 L1449.98 1002.39 L1449.34 1002.90 L1448.71 1003.41 L1448.08 1003.94 L1447.45 1004.47 L1446.82 1005.01 L1446.20 1005.57 L1445.57 1006.13 L1444.96 1006.69 L1444.34 1007.27 L1443.73 1007.86 L1443.12 1008.45 L1442.51 1009.05 L1441.91 1009.67 L1441.31 1010.28 L1440.72 1010.91 L1440.13 1011.54 L1439.54 1012.18 L1438.96 1012.83 L1438.96 1012.83 L1440.39 1012.96 L1441.28 1012.61 L1442.09 1012.20 L1442.86 1011.77 L1443.60 1011.32 L1444.33 1010.86 L1445.04 1010.41 L1445.75 1009.95 L1446.45 1009.50 L1447.14 1009.05 L1447.82 1008.60 L1448.51 1008.15 L1449.18 1007.71 L1449.85 1007.28 L1450.52 1006.85 L1451.19 1006.43 L1451.85 1006.02 L1452.51 1005.61 L1453.16 1005.21 L1453.82 1004.81 L1454.47 1004.43 L1455.11 1004.05 L1455.76 1003.68 L1456.40 1003.31 L1457.03 1002.96 L1457.67 1002.61 L1458.30 1002.27 L1458.93 1001.94 L1459.55 1001.62 L1460.17 1001.30 L1460.79 1000.99 L1461.40 1000.70 L1462.01 1000.41 L1462.62 1000.13 L1463.22 999.85 L1463.82 999.59 L1464.42 999.33 L1465.01 999.09 L1465.59 998.85 L1466.18 998.62 L1466.75 998.39 L1467.33 998.18 L1467.90 997.98 L1468.46 997.78 L1469.02 997.59 L1469.58 997.41 L1470.13 997.24 L1470.67 997.07 L1471.21 996.92 L1471.75 996.77 L1472.28 996.63 L1472.81 996.50 L1473.33 996.38 L1473.85 996.26 L1474.36 996.15 L1474.87 996.05 L1475.37 995.96 L1475.87 995.87 L1476.37 995.79 L1476.86 995.72 L1477.35 995.66 L1477.83 995.60 L1478.31 995.55 L1478.78 995.51 L1479.25 995.47 L1479.72 995.44 L1480.19 995.42 L1480.65 995.40 L1481.11 995.39 L1481.57 995.38 L1482.03 995.39 L1482.48 995.40 L1482.93 995.41 L1483.39 995.43 L1483.84 995.46 L1484.30 995.49 L1484.75 995.53 L1485.21 995.57 L1485.66 995.62 L1486.13 995.68 L1486.59 995.73 L1487.06 995.80 L1487.54 995.86 L1488.03 995.93 L1488.53 996.00 L1489.04 996.06 L1489.58 996.11 L1490.15 996.13 L1490.80 996.09 L1491.91 995.51 Z" fill="#000" stroke="none" stroke-width="0.00" stroke-linejoin="round" stroke-linecap="round" />
<path d="M1420.04 1044.13 L1419.72 1045.00 L1419.41 1045.87 L1419.11 1046.73 L1418.83 1047.60 L1418.55 1048.47 L1418.28 1049.33 L1418.02 1050.19 L1417.78 1051.06 L1417.54 1051.92 L1417.32 1052.77 L1417.10 1053.63 L1416.90 1054.48 L1416.71 1055.33 L1416.52 1056.18 L1416.35 1057.03 L1416.19 1057.87 L1416.05 1058.71 L1415.91 1059.54 L1415.78 1060.37 L1415.67 1061.20 L1415.56 1062.02 L1415.47 1062.83 L1415.39 1063.65 L1415.32 1064.45 L1415.26 1065.26 L1415.21 1066.05 L1415.18 1066.84 L1415.15 1067.63 L1415.14 1068.41 L1415.14 1069.18 L1415.15 1069.95 L1415.17 1070.71 L1415.20 1071.46 L1415.24 1072.20 L1415.30 1072.94 L1415.37 1073.67 L1415.44 1074.40 L1415.53 1075.11 L1415.63 1075.82 L1415.75 1076.52 L1415.87 1077.21 L1416.00 1077.89 L1416.15 1078.56 L1416.31 1079.23 L1416.48 1079.88 L1416.65 1080.53 L1416.85 1081.17 L1417.05 1081.79 L1417.26 1082.41 L1417.48 1083.02 L1417.72 1083.61 L1417.96 1084.20 L1418.22 1084.78 L1418.49 1085.34 L1418.77 1085.90 L1419.06 1086.44 L1419.35 1086.98 L1419.66 1087.50 L1419.99 1088.01 L1420.32 1088.51 L1420.66 1088.99 L1421.01 1089.47 L1421.37 1089.93 L1421.74 1090.38 L1422.12 1090.82 L1422.51 1091.25 L1422.92 1091.66 L1423.33 1092.06 L1423.75 1092.45 L1424.18 1092.83 L1424.61 1093.19 L1425.06 1093.54 L1425.52 1093.88 L1425.99 1094.20 L1426.46 1094.51 L1426.94 1094.80 L1427.43 1095.09 L1427.93 1095.36 L1428.44 1095.61 L1428.96 1095.85 L1429.48 1096.08 L1430.01 1096.29 L1430.55 1096.49 L1431.10 1096.67 L1431.65 1096.84 L1432.21 1097.00 L1432.78 1097.14 L1433.35 1097.27 L1433.93 1097.38 L1434.52 1097.48 L1434.52 1097.48 L1434.08 1096.56 L1433.58 1096.15 L1433.09 1095.80 L1432.61 1095.49 L1432.14 1095.19 L1431.67 1094.89 L1431.22 1094.60 L1430.78 1094.30 L1430.34 1094.01 L1429.92 1093.71 L1429.51 1093.41 L1429.10 1093.11 L1428.71 1092.79 L1428.32 1092.48 L1427.95 1092.16 L1427.58 1091.83 L1427.22 1091.50 L1426.87 1091.16 L1426.53 1090.81 L1426.19 1090.46 L1425.87 1090.09 L1425.55 1089.73 L1425.24 1089.35 L1424.93 1088.97 L1424.64 1088.58 L1424.35 1088.18 L1424.07 1087.77 L1423.79 1087.36 L1423.52 1086.93 L1423.26 1086.50 L1423.00 1086.06 L1422.76 1085.61 L1422.51 1085.15 L1422.28 1084.68 L1422.05 1084.20 L1421.83 1083.72 L1421.61 1083.22 L1421.41 1082.72 L1421.20 1082.20 L1421.01 1081.67 L1420.82 1081.14 L1420.64 1080.59 L1420.47 1080.04 L1420.30 1079.48 L1420.15 1078.90 L1420.00 1078.32 L1419.85 1077.72 L1419.72 1077.12 L1419.59 1076.51 L1419.47 1075.89 L1419.35 1075.26 L1419.25 1074.61 L1419.15 1073.96 L1419.06 1073.30 L1418.98 1072.64 L1418.91 1071.96 L1418.84 1071.27 L1418.79 1070.58 L1418.74 1069.87 L1418.70 1069.16 L1418.67 1068.44 L1418.64 1067.71 L1418.63 1066.98 L1418.62 1066.23 L1418.62 1065.48 L1418.63 1064.72 L1418.65 1063.95 L1418.68 1063.18 L1418.71 1062.40 L1418.75 1061.61 L1418.81 1060.81 L1418.86 1060.01 L1418.93 1059.20 L1419.00 1058.38 L1419.08 1057.56 L1419.17 1056.73 L1419.27 1055.90 L1419.37 1055.06 L1419.48 1054.21 L1419.59 1053.36 L1419.71 1052.50 L1419.83 1051.63 L1419.95 1050.76 L1420.07 1049.87 L1420.20 1048.99 L1420.31 1048.09 L1420.42 1047.17 L1420.50 1046.25 L1420.51 1045.28 L1420.04 1044.13 Z" fill="#000" stroke="none" stroke-width="0.00" stroke-linejoin="round" stroke-linecap="round" />
<path d="M1483.89 979.12 L1482.56 979.91 L1481.24 980.73 L1479.90 981.57 L1478.56 982.44 L1477.22 983.34 L1475.87 984.27 L1474.52 985.23 L1473.17 986.23 L1471.81 987.25 L1470.46 988.31 L1469.10 989.40 L1467.74 990.52 L1466.38 991.67 L1465.03 992.86 L1463.68 994.07 L1462.33 995.32 L1460.99 996.60 L1459.65 997.90 L1458.31 999.24 L1456.99 1000.60 L1455.67 1001.99 L1454.36 1003.41 L1453.05 1004.85 L1451.76 1006.33 L1450.48 1007.82 L1449.21 1009.34 L1447.95 1010.88 L1446.71 1012.45 L1445.48 1014.03 L1444.27 1015.64 L1443.07 1017.27 L1441.88 1018.91 L1440.72 1020.57 L1439.57 1022.25 L1438.44 1023.95 L1437.33 1025.66 L1436.24 1027.38 L1435.17 1029.12 L1434.12 1030.86 L1433.10 1032.62 L1432.09 1034.39 L1431.11 1036.16 L1430.15 1037.95 L1429.22 1039.74 L1428.31 1041.53 L1427.43 1043.33 L1426.57 1045.13 L1425.74 1046.93 L1424.94 1048.73 L1424.16 1050.54 L1423.41 1052.34 L1422.69 1054.13 L1421.99 1055.93 L1421.33 1057.72 L1420.69 1059.50 L1420.08 1061.28 L1419.50 1063.05 L1418.96 1064.81 L1418.44 1066.56 L1417.95 1068.29 L1417.49 1070.02 L1417.06 1071.73 L1416.66 1073.43 L1416.29 1075.12 L1415.95 1076.79 L1415.63 1078.44 L1415.35 1080.08 L1415.10 1081.69 L1414.88 1083.29 L1414.68 1084.88 L1414.51 1086.44 L1414.37 1087.98 L1414.26 1089.51 L1414.17 1091.01 L1414.11 1092.49 L1414.07 1093.96 L1414.06 1095.41 L1414.06 1096.84" fill="none" stroke="#fcfefc" stroke-width="1.30" stroke-linejoin="round" stroke-linecap="round" />
<ellipse cx="1467.80" cy="1049.20" rx="29.00" ry="17.50" transform="rotate(-57.70 1467.80 1049.20)" fill="#fcfefc" stroke="#000" stroke-width="1.00"/>
<ellipse cx="1469.40" cy="1049.80" rx="23.00" ry="12.60" transform="rotate(-57.70 1469.40 1049.80)" fill="none" stroke="#000" stroke-width="0.90"/>
<ellipse cx="1463.60" cy="1047.00" rx="12.80" ry="8.20" transform="rotate(-57.70 1463.60 1047.00)" fill="#000" stroke="none" stroke-width="1.00"/>
<line x1="1459.00" y1="1044.30" x2="1474.00" y2="1052.89" stroke="#fcfefc" stroke-width="3.40" stroke-linecap="round"/>
<line x1="1473.00" y1="1052.32" x2="1546.40" y2="1094.35" stroke="#fcfefc" stroke-width="8.00" stroke-linecap="butt"/>
<line x1="1462.00" y1="1046.02" x2="1546.40" y2="1094.35" stroke="#000" stroke-width="1.00" stroke-linecap="round"/>
<path d="M1576.25 1084.01 L1577.10 1084.63 L1577.87 1085.37 L1578.55 1086.22 L1579.14 1087.18 L1579.64 1088.24 L1580.04 1089.40 L1580.33 1090.65 L1580.53 1091.98 L1580.62 1093.37 L1580.61 1094.84 L1580.50 1096.35 L1580.28 1097.92 L1579.96 1099.51 L1579.54 1101.14 L1579.03 1102.78 L1578.42 1104.42 L1577.72 1106.06 L1576.93 1107.69 L1576.07 1109.29 L1575.13 1110.86 L1574.11 1112.38 L1573.04 1113.85 L1571.91 1115.26 L1570.72 1116.60 L1569.50 1117.85 L1568.24 1119.02 L1566.95 1120.10 L1565.65 1121.07 L1564.33 1121.94 L1563.01 1122.69 L1561.69 1123.33 L1560.38 1123.84 L1559.10 1124.23 L1557.85 1124.50 L1556.63 1124.64 L1555.46 1124.64 L1554.34 1124.52 L1553.27 1124.27 L1552.28 1123.90 L1551.35 1123.39 L1549.74 1122.38 L1548.89 1121.76 L1548.13 1121.02 L1547.44 1120.16 L1546.85 1119.20 L1546.36 1118.14 L1545.96 1116.98 L1545.66 1115.74 L1545.46 1114.41 L1545.37 1113.01 L1545.38 1111.55 L1545.50 1110.03 L1545.71 1108.47 L1546.03 1106.87 L1546.45 1105.25 L1546.97 1103.61 L1547.57 1101.96 L1548.27 1100.32 L1549.06 1098.69 L1549.93 1097.09 L1550.87 1095.52 L1551.88 1094.00 L1552.95 1092.53 L1554.09 1091.12 L1555.27 1089.79 L1556.49 1088.53 L1557.75 1087.36 L1559.04 1086.29 L1560.35 1085.32 L1561.67 1084.45 L1562.99 1083.70 L1564.31 1083.06 L1565.61 1082.54 L1566.89 1082.15 L1568.15 1081.89 L1569.36 1081.75 L1570.53 1081.74 L1571.66 1081.86 L1572.72 1082.11 L1573.72 1082.49 L1574.64 1082.99 Z" fill="#fcfefc" stroke="none" stroke-width="0.00" stroke-linejoin="round" stroke-linecap="round" />
<path d="M1551.67 1123.26 L1550.57 1122.84 L1549.57 1122.26 L1548.65 1121.55 L1547.84 1120.69 L1547.14 1119.70 L1546.54 1118.58 L1546.07 1117.34 L1545.71 1115.99 L1545.48 1114.55 L1545.37 1113.01 L1545.39 1111.40 L1545.53 1109.72 L1545.80 1107.99 L1546.19 1106.22 L1546.70 1104.43 L1547.32 1102.62 L1548.05 1100.81 L1548.90 1099.02 L1549.84 1097.25 L1550.87 1095.52 L1551.98 1093.85 L1553.18 1092.24 L1554.44 1090.72 L1555.75 1089.28 L1557.12 1087.94 L1558.52 1086.71 L1559.96 1085.60 L1561.40 1084.61 L1562.86 1083.77 L1564.31 1083.06 L1565.74 1082.50 L1567.14 1082.09 L1568.51 1081.83 L1569.84 1081.73 L1571.10 1081.79 L1572.30 1082.00 L1573.43 1082.36 L1574.46 1082.88 L1575.41 1083.55 L1576.26 1084.35" fill="none" stroke="#000" stroke-width="0.90" stroke-linejoin="round" stroke-linecap="round" />
<ellipse cx="1563.80" cy="1103.70" rx="23.30" ry="13.40" transform="rotate(-57.70 1563.80 1103.70)" fill="none" stroke="#000" stroke-width="0.90"/>
<ellipse cx="1564.80" cy="1105.00" rx="11.60" ry="6.60" transform="rotate(-57.70 1564.80 1105.00)" fill="none" stroke="#000" stroke-width="0.90"/>
<path d="M1559.14 1113.85 L1558.89 1113.26 L1558.71 1112.60 L1558.59 1111.89 L1558.54 1111.12 L1558.56 1110.31 L1558.65 1109.46 L1558.80 1108.57 L1559.02 1107.67 L1559.31 1106.75 L1559.66 1105.82 L1560.07 1104.90 L1560.53 1103.98 L1561.05 1103.09 L1561.61 1102.22 L1562.21 1101.38 L1562.85 1100.58 L1563.52 1099.83 L1564.21 1099.14 L1564.93 1098.51 L1565.65 1097.94" fill="none" stroke="#000" stroke-width="0.80" stroke-linejoin="round" stroke-linecap="round" />
<line x1="1560.70" y1="1102.54" x2="1586.00" y2="1117.02" stroke="#000" stroke-width="1.00" stroke-linecap="round"/>
<path d="M1585.60 1140.40 C1585.13 1140.13 1583.30 1139.92 1582.80 1138.80 C1582.30 1137.68 1582.60 1135.13 1582.60 1133.70 C1582.60 1132.27 1582.45 1131.58 1582.80 1130.20 C1583.15 1128.82 1583.98 1127.05 1584.70 1125.40 C1585.42 1123.75 1586.20 1121.90 1587.10 1120.30 C1588.00 1118.70 1588.80 1117.50 1590.10 1115.80 C1591.40 1114.10 1593.25 1111.53 1594.90 1110.10 C1596.55 1108.67 1598.43 1107.72 1600.00 1107.20 C1601.57 1106.68 1602.87 1106.95 1604.30 1107.00 C1605.73 1107.05 1607.35 1106.98 1608.60 1107.50 C1609.85 1108.02 1610.95 1109.13 1611.80 1110.10 C1612.65 1111.07 1613.17 1111.97 1613.70 1113.30 C1614.23 1114.63 1614.83 1116.72 1615.00 1118.10 C1615.17 1119.48 1614.97 1120.70 1614.70 1121.60 C1614.43 1122.50 1613.78 1122.77 1613.40 1123.50 C1613.02 1124.23 1612.57 1125.58 1612.40 1126.00" fill="none" stroke="#000" stroke-width="0.95" stroke-linejoin="round" stroke-linecap="round" />
<path d="M1585.60 1138.80 C1585.60 1137.47 1585.07 1133.67 1585.60 1130.80 C1586.13 1127.93 1587.37 1124.25 1588.80 1121.60 C1590.23 1118.95 1592.33 1116.77 1594.20 1114.90 C1596.07 1113.03 1598.40 1111.37 1600.00 1110.40 C1601.60 1109.43 1603.17 1109.32 1603.80 1109.10" fill="none" stroke="#000" stroke-width="0.95" stroke-linejoin="round" stroke-linecap="round" />
<path d="M1586.00 1139.70 C1586.68 1138.80 1588.78 1136.05 1590.10 1134.30 C1591.42 1132.55 1593.22 1130.58 1593.90 1129.20 C1594.58 1127.82 1594.15 1126.53 1594.20 1126.00" fill="none" stroke="#000" stroke-width="0.95" stroke-linejoin="round" stroke-linecap="round" />
<path d="M1592.00 1124.10 L1595.20 1124.90" fill="none" stroke="#000" stroke-width="0.95" stroke-linejoin="round" stroke-linecap="round" />
<path d="M1593.30 1122.20 C1593.67 1121.35 1594.70 1118.38 1595.50 1117.10 C1596.30 1115.82 1597.13 1115.18 1598.10 1114.50 C1599.07 1113.82 1600.40 1113.37 1601.30 1113.00 C1602.20 1112.63 1603.08 1111.72 1603.50 1112.30 C1603.92 1112.88 1603.93 1115.40 1603.80 1116.50 C1603.67 1117.60 1602.88 1118.50 1602.70 1118.90" fill="none" stroke="#000" stroke-width="0.95" stroke-linejoin="round" stroke-linecap="round" />
<path d="M1600.60 1113.50 C1600.55 1114.42 1600.08 1117.92 1600.30 1119.00 C1600.52 1120.08 1601.15 1119.52 1601.90 1120.00 C1602.65 1120.48 1603.95 1121.75 1604.80 1121.90 C1605.65 1122.05 1606.32 1121.33 1607.00 1120.90 C1607.68 1120.47 1608.58 1119.57 1608.90 1119.30" fill="none" stroke="#000" stroke-width="0.95" stroke-linejoin="round" stroke-linecap="round" />
<path d="M1607.60 1121.70 C1607.60 1122.10 1607.38 1123.45 1607.60 1124.10 C1607.82 1124.75 1608.42 1125.38 1608.90 1125.60 C1609.38 1125.82 1610.20 1126.30 1610.50 1125.40 C1610.80 1124.50 1610.70 1121.48 1610.70 1120.20 C1610.70 1118.92 1610.80 1117.85 1610.50 1117.70 C1610.20 1117.55 1609.17 1119.03 1608.90 1119.30" fill="none" stroke="#000" stroke-width="0.95" stroke-linejoin="round" stroke-linecap="round" />
<path d="M1600.60 1130.20 C1600.18 1130.83 1598.95 1132.42 1598.10 1134.00 C1597.25 1135.58 1596.13 1138.22 1595.50 1139.70 C1594.87 1141.18 1593.98 1142.05 1594.30 1142.90 C1594.62 1143.75 1596.08 1144.95 1597.40 1144.80 C1598.72 1144.65 1600.87 1142.90 1602.20 1142.00 C1603.53 1141.10 1604.28 1140.68 1605.40 1139.40 C1606.52 1138.12 1608.32 1135.15 1608.90 1134.30" fill="none" stroke="#000" stroke-width="0.95" stroke-linejoin="round" stroke-linecap="round" />
<path d="M1602.90 1131.10 C1602.42 1131.85 1600.80 1133.78 1600.00 1135.60 C1599.20 1137.42 1598.42 1140.93 1598.10 1142.00" fill="none" stroke="#000" stroke-width="0.95" stroke-linejoin="round" stroke-linecap="round" />
<line x1="1597.80" y1="1123.78" x2="1642.80" y2="1149.55" stroke="#000" stroke-width="1.00" stroke-linecap="round"/>
<line x1="734.50" y1="409.00" x2="913.70" y2="409.00" stroke="#000" stroke-width="6.20" stroke-linecap="round"/>
<line x1="913.70" y1="409.00" x2="968.90" y2="331.70" stroke="#000" stroke-width="6.20" stroke-linecap="round"/>
<line x1="913.70" y1="409.00" x2="1085.30" y2="620.10" stroke="#000" stroke-width="6.20" stroke-linecap="round"/>
<line x1="125.00" y1="294.00" x2="177.00" y2="313.00" stroke="#000" stroke-width="1.00" stroke-linecap="round"/>
<line x1="210.00" y1="398.00" x2="228.00" y2="377.00" stroke="#000" stroke-width="1.00" stroke-linecap="round"/>
<line x1="226.00" y1="542.50" x2="255.00" y2="507.00" stroke="#000" stroke-width="1.00" stroke-linecap="round"/>
<line x1="457.00" y1="569.00" x2="491.00" y2="524.00" stroke="#000" stroke-width="1.00" stroke-linecap="round"/>
<line x1="838.10" y1="784.30" x2="901.60" y2="743.10" stroke="#000" stroke-width="1.00" stroke-linecap="round"/>
<line x1="1203.00" y1="983.00" x2="1250.00" y2="953.00" stroke="#000" stroke-width="1.00" stroke-linecap="round"/>
<line x1="1312.00" y1="1208.00" x2="1363.00" y2="1147.00" stroke="#000" stroke-width="1.00" stroke-linecap="round"/>
<line x1="1519.00" y1="1178.00" x2="1549.00" y2="1130.00" stroke="#000" stroke-width="1.00" stroke-linecap="round"/>
<line x1="1603.00" y1="1258.00" x2="1605.00" y2="1155.00" stroke="#000" stroke-width="1.00" stroke-linecap="round"/>
</svg><svg class="tx" width="1800" height="1348" viewBox="0 0 1800 1348" font-family="Liberation Sans, sans-serif"><text x="52.7" y="295.6" font-size="29.5">0050</text>
<text x="136.7" y="414.1" font-size="29.5">0030</text>
<text x="153.7" y="561.6" font-size="29.5">0040</text>
<text x="415.2" y="599.1" font-size="29.5">0030</text>
<text x="766.7" y="804.6" font-size="29.5">0020</text>
<text x="1125.7" y="1004.1" font-size="29.5">0030</text>
<text x="1245.7" y="1236.6" font-size="29.5">0040</text>
<text x="1482.7" y="1208.6" font-size="29.5">0030</text>
<text x="1571.7" y="1290.6" font-size="29.5">0050</text>
<text x="889.8" y="282.8" font-size="33.5">REFER TO</text>
<text x="812.2" y="322.7" font-size="33.5">HANDLE ASSEMBLY</text>
<text x="1640.6" y="1334.2" font-family="Liberation Serif, serif" font-size="38.5" fill="#d4d4d0">m</text>
<text x="1671.9" y="1334.2" font-family="Liberation Serif, serif" font-size="38.5" fill="#d4d4d0">o</text>
<text x="1690.1" y="1334.2" font-family="Liberation Serif, serif" font-size="38.5" fill="#d4d4d0">t</text>
<text x="1703.2" y="1334.2" font-family="Liberation Serif, serif" font-size="38.5" fill="#d4d4d0">o</text>
<text x="1722.2" y="1334.2" font-family="Liberation Serif, serif" font-size="38.5" fill="#d4d4d0">r</text>
<text x="1736.4" y="1334.2" font-family="Liberation Serif, serif" font-size="38.5" fill="#d4d4d0">u</text>
<text x="1754.9" y="1334.2" font-family="Liberation Serif, serif" font-size="38.5" fill="#d4d4d0">f</text>
<text x="1639.6" y="1333.2" font-family="Liberation Serif, serif" font-size="38.5" fill="#4a6cbc">m</text>
<text x="1670.9" y="1333.2" font-family="Liberation Serif, serif" font-size="38.5" fill="#4ab848">o</text>
<text x="1689.1" y="1333.2" font-family="Liberation Serif, serif" font-size="38.5" fill="#ec68ac">t</text>
<text x="1702.2" y="1333.2" font-family="Liberation Serif, serif" font-size="38.5" fill="#1aa43c">o</text>
<text x="1721.2" y="1333.2" font-family="Liberation Serif, serif" font-size="38.5" fill="#ec5420">r</text>
<text x="1735.4" y="1333.2" font-family="Liberation Serif, serif" font-size="38.5" fill="#f4a41c">u</text>
<text x="1753.9" y="1333.2" font-family="Liberation Serif, serif" font-size="38.5" fill="#f8d41c">f</text>
<text x="1768.7" y="1333.0" font-family="Liberation Serif, serif" font-size="17.5" fill="#2c2c20">.</text>
<text x="1771.8" y="1333.0" font-family="Liberation Serif, serif" font-size="17.5" fill="#2c2c20">d</text>
<text x="1780.3" y="1333.0" font-family="Liberation Serif, serif" font-size="17.5" fill="#2c2c20">e</text>
<circle cx="1773.9" cy="1308.3" r="0.8" fill="#555"/></svg>
</body></html>
